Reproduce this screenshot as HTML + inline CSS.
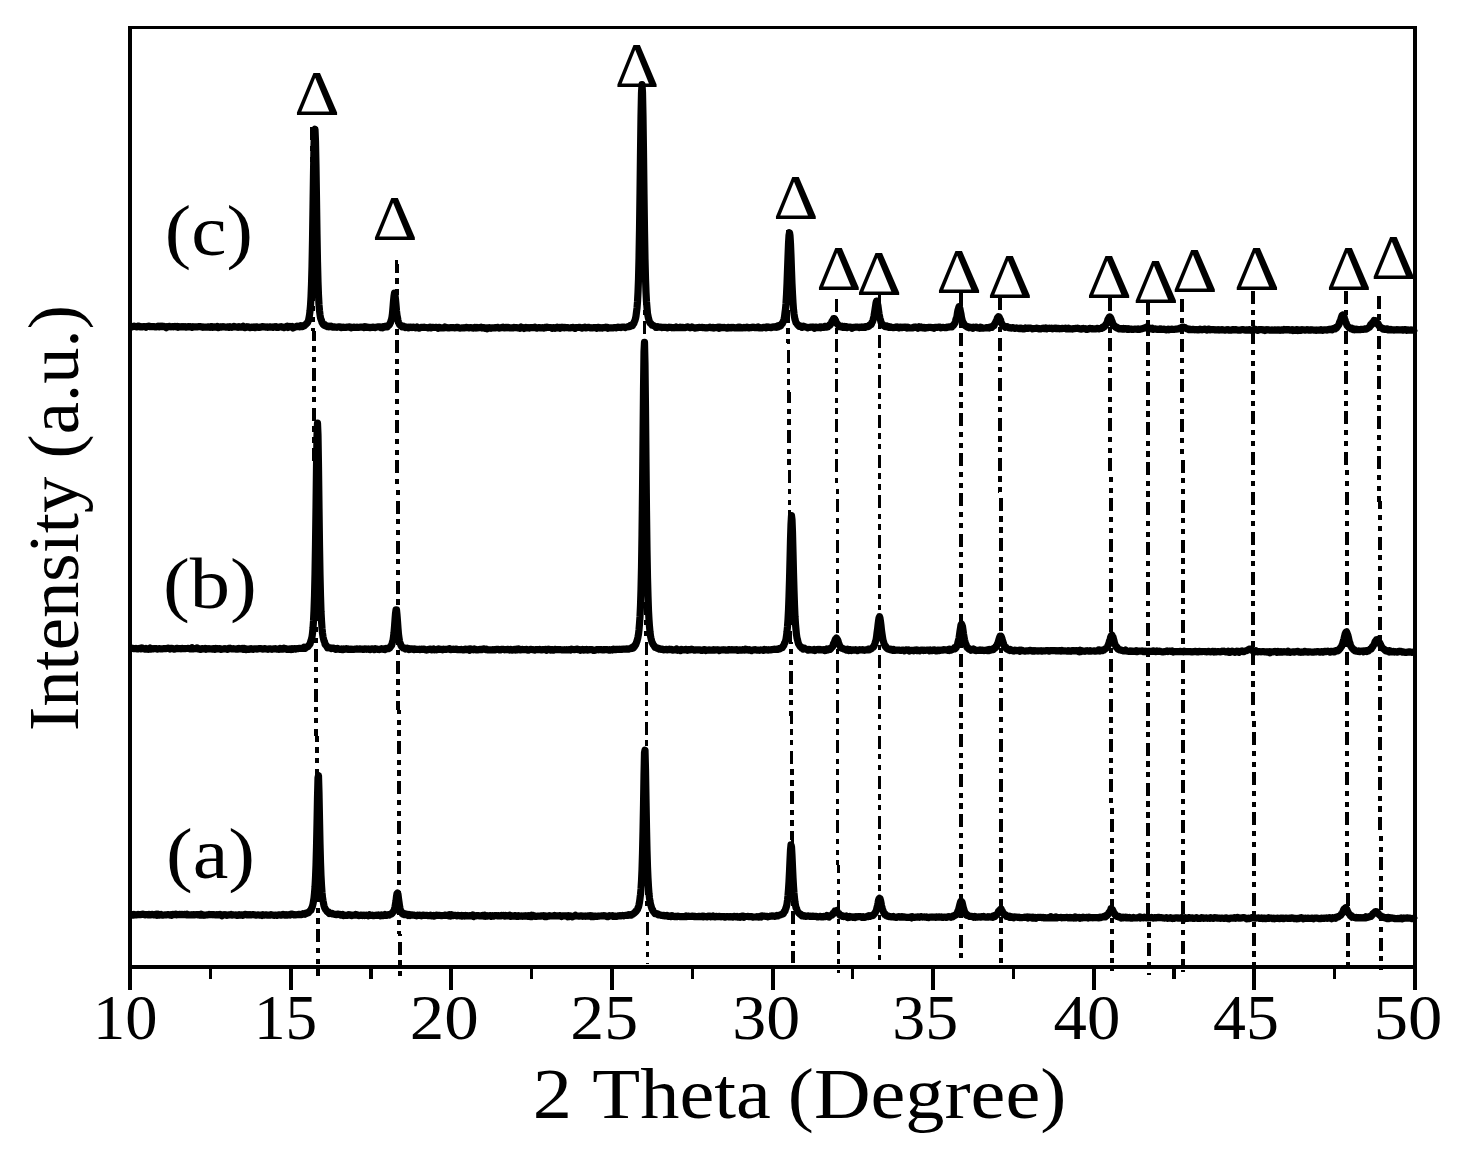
<!DOCTYPE html>
<html lang="en"><head><meta charset="utf-8"><title>XRD patterns</title>
<style>html,body{margin:0;padding:0;background:#fff}svg{display:block}text{font-family:"Liberation Serif","DejaVu Serif",serif;fill:#000}</style></head><body>
<svg width="1462" height="1157" viewBox="0 0 1462 1157">
<rect width="1462" height="1157" fill="#fff"/>
<g stroke="#000" fill="none" shape-rendering="crispEdges" stroke-dasharray="13 5.5 5.3 5.5 5.3 5.5">
<line x1="312.0" y1="127.3" x2="318.3" y2="976.0" stroke-width="4"/>
<line x1="396.5" y1="260.0" x2="399.7" y2="976.0" stroke-width="4"/>
<line x1="644.1" y1="120.5" x2="647.2" y2="964.0" stroke-width="3"/>
<line x1="787.4" y1="229.7" x2="793.3" y2="963.0" stroke-width="3.6"/>
<line x1="836.5" y1="299.0" x2="838.3" y2="972.8" stroke-width="3"/>
<line x1="879.2" y1="294.6" x2="880.0" y2="964.4" stroke-width="3"/>
<line x1="960.6" y1="293.0" x2="961.5" y2="964.0" stroke-width="4"/>
<line x1="1000.1" y1="297.5" x2="1001.5" y2="969.3" stroke-width="4"/>
<line x1="1110.0" y1="298.0" x2="1112.0" y2="971.3" stroke-width="4"/>
<line x1="1147.5" y1="301.8" x2="1148.6" y2="974.8" stroke-width="4"/>
<line x1="1182.2" y1="299.2" x2="1183.5" y2="972.4" stroke-width="4"/>
<line x1="1253.0" y1="291.2" x2="1253.8" y2="968.0" stroke-width="4"/>
<line x1="1346.1" y1="291.2" x2="1347.7" y2="967.0" stroke-width="4"/>
<line x1="1378.9" y1="296.0" x2="1380.9" y2="970.5" stroke-width="4"/>
</g>
<g stroke="#000" fill="none" stroke-linecap="butt" shape-rendering="crispEdges">
<path d="M130.0,26.0 V990.0" stroke-width="4"/>
<path d="M1415.0,26.0 V990.0" stroke-width="4"/>
<path d="M128.0,27.5 H1417.0" stroke-width="3"/>
<path d="M128.0,967.0 H1417.0" stroke-width="4"/>
<path d="M290.6,967.0 V990.0" stroke-width="4"/>
<path d="M451.2,967.0 V990.0" stroke-width="4"/>
<path d="M611.9,967.0 V990.0" stroke-width="4"/>
<path d="M772.5,967.0 V990.0" stroke-width="4"/>
<path d="M933.1,967.0 V990.0" stroke-width="4"/>
<path d="M1093.8,967.0 V990.0" stroke-width="4"/>
<path d="M1254.4,967.0 V990.0" stroke-width="4"/>
<path d="M210.3,967.0 V979.0" stroke-width="3.3"/>
<path d="M370.9,967.0 V979.0" stroke-width="3.3"/>
<path d="M531.6,967.0 V979.0" stroke-width="3.3"/>
<path d="M692.2,967.0 V979.0" stroke-width="3.3"/>
<path d="M852.8,967.0 V979.0" stroke-width="3.3"/>
<path d="M1013.4,967.0 V979.0" stroke-width="3.3"/>
<path d="M1174.1,967.0 V979.0" stroke-width="3.3"/>
<path d="M1334.7,967.0 V979.0" stroke-width="3.3"/>
</g>
<g stroke="#000" fill="none" stroke-width="7.2" stroke-linejoin="round" stroke-linecap="butt">
<path d="M130.0,326.1 131.0,326.6 132.0,326.8 133.0,326.4 134.0,326.1 135.0,326.5 136.0,326.7 137.0,326.9 138.0,326.2 139.0,326.1 140.0,326.8 141.0,326.7 142.0,327.0 143.0,326.8 144.0,326.5 145.0,326.5 146.0,327.3 147.0,326.5 148.0,326.3 149.0,326.2 150.0,326.6 151.0,326.6 152.0,326.5 153.0,326.6 154.0,326.7 155.0,326.8 156.0,326.9 157.0,326.7 158.0,326.1 159.0,326.8 160.0,326.2 161.0,326.6 162.0,326.2 163.0,326.6 164.0,326.4 165.0,326.7 166.0,327.6 167.0,326.6 168.0,326.9 169.0,326.3 170.0,326.6 171.0,326.9 172.0,326.6 173.0,326.8 174.0,326.7 175.0,326.4 176.0,326.9 177.0,326.5 178.0,327.3 179.0,326.6 180.0,326.9 181.0,326.7 182.0,327.0 183.0,326.5 184.0,327.0 185.0,326.7 186.0,327.1 187.0,326.9 188.0,326.8 189.0,326.5 190.0,327.0 191.0,326.9 192.0,327.3 193.0,326.7 194.0,326.9 195.0,326.9 196.0,326.9 197.0,326.8 198.0,326.8 199.0,326.6 200.0,326.5 201.0,326.7 202.0,327.0 203.0,327.3 204.0,327.1 205.0,327.1 206.0,327.1 207.0,327.0 208.0,326.9 209.0,327.1 210.0,327.4 211.0,326.7 212.0,326.6 213.0,327.4 214.0,326.9 215.0,327.1 216.0,327.1 217.0,326.5 218.0,327.6 219.0,327.4 220.0,326.9 221.0,327.1 222.0,326.9 223.0,326.6 224.0,326.9 225.0,327.0 226.0,327.2 227.0,327.1 228.0,326.9 229.0,327.3 230.0,326.7 231.0,327.2 232.0,327.3 233.0,326.8 234.0,326.4 235.0,326.7 236.0,327.0 237.0,327.1 238.0,327.4 239.0,326.7 240.0,327.0 241.0,327.2 242.0,326.9 243.0,326.3 244.0,327.2 245.0,327.7 246.0,327.3 247.0,326.7 248.0,326.9 249.0,327.1 250.0,327.7 251.0,327.2 252.0,327.0 253.0,327.5 254.0,327.0 255.0,327.6 256.0,326.8 257.0,326.9 258.0,327.2 259.0,327.5 260.0,327.2 261.0,327.1 262.0,326.5 263.0,326.8 264.0,326.9 265.0,326.9 266.0,327.2 267.0,326.9 268.0,327.3 269.0,327.1 270.0,326.9 271.0,327.1 272.0,327.2 273.0,327.3 274.0,326.9 275.0,327.0 276.0,326.6 277.0,327.5 278.0,327.5 279.0,327.0 280.0,326.9 281.0,326.7 282.0,327.1 283.0,327.1 284.0,327.7 285.0,327.1 286.0,326.8 287.0,326.3 288.0,327.5 289.0,327.1 290.0,326.5 291.0,327.0 292.0,326.5 293.0,328.0 294.0,327.3 295.0,327.1 296.0,326.8 297.0,326.2 298.0,326.7 299.0,326.2 300.0,326.8 301.0,325.8 301.5,326.1 302.0,326.6 302.5,326.7 303.0,325.7 303.5,325.4 304.0,326.0 304.5,325.7 305.0,324.9 305.5,324.7 306.0,324.2 306.5,323.6 307.0,323.1 307.5,322.8 308.0,321.5 308.5,320.5 309.0,317.9 309.5,315.1 310.0,311.0 310.5,305.6 311.0,297.0 311.5,284.4 312.0,266.6 312.5,240.6 313.0,207.2 313.5,173.1 314.0,145.6 314.5,130.4 315.0,129.3 315.5,141.4 316.0,166.1 316.5,199.4 317.0,233.5 317.5,261.8 318.0,281.9 318.5,295.2 319.0,304.7 319.5,310.4 320.0,314.7 320.5,317.8 321.0,319.3 321.5,320.5 322.0,322.5 322.5,323.0 323.0,324.3 323.5,324.5 324.0,325.1 324.5,325.4 325.0,324.9 325.5,325.9 326.0,325.7 326.5,325.8 327.0,326.1 327.5,326.6 328.0,326.7 328.5,326.8 329.0,326.1 330.0,326.5 331.0,326.1 332.0,326.9 333.0,327.1 334.0,326.8 335.0,327.1 336.0,327.1 337.0,327.4 338.0,326.9 339.0,326.9 340.0,326.9 341.0,327.7 342.0,327.5 343.0,327.2 344.0,327.3 345.0,327.3 346.0,327.3 347.0,327.2 348.0,327.2 349.0,326.9 350.0,327.1 351.0,327.8 352.0,327.4 353.0,327.3 354.0,327.2 355.0,327.3 356.0,327.4 357.0,327.1 358.0,327.4 359.0,327.4 360.0,327.1 361.0,327.1 362.0,327.0 363.0,327.0 364.0,327.6 365.0,326.6 366.0,327.3 367.0,327.2 368.0,327.2 369.0,327.4 370.0,327.7 371.0,327.4 372.0,327.3 373.0,327.2 374.0,327.3 375.0,327.6 376.0,327.2 377.0,327.0 378.0,326.9 379.0,326.9 380.0,326.8 381.0,327.6 381.5,327.3 382.0,327.1 382.5,327.6 383.0,326.9 383.5,327.3 384.0,327.3 384.5,326.5 385.0,326.4 385.5,326.5 386.0,327.0 386.5,327.0 387.0,326.1 387.5,326.6 388.0,325.9 388.5,325.5 389.0,325.1 389.5,324.5 390.0,323.3 390.5,322.5 391.0,320.9 391.5,319.4 392.0,317.0 392.5,313.3 393.0,307.3 393.5,301.0 394.0,296.1 394.5,293.2 395.0,295.3 395.5,299.4 396.0,304.9 396.5,310.8 397.0,315.1 397.5,317.7 398.0,320.4 398.5,322.2 399.0,323.5 399.5,324.4 400.0,324.9 400.5,325.6 401.0,325.7 401.5,325.9 402.0,326.9 402.5,326.7 403.0,326.9 403.5,326.4 404.0,326.9 404.5,327.3 405.0,326.7 405.5,327.5 406.0,327.1 406.5,327.3 407.0,327.2 407.5,327.3 408.0,327.7 408.5,327.2 409.0,327.8 410.0,327.1 411.0,327.1 412.0,327.6 413.0,327.1 414.0,327.3 415.0,327.7 416.0,327.8 417.0,327.0 418.0,327.7 419.0,328.1 420.0,327.9 421.0,327.4 422.0,327.3 423.0,327.4 424.0,327.2 425.0,327.5 426.0,327.5 427.0,327.5 428.0,327.9 429.0,327.5 430.0,327.1 431.0,327.9 432.0,327.3 433.0,327.4 434.0,327.5 435.0,327.5 436.0,327.3 437.0,327.5 438.0,328.3 439.0,327.4 440.0,327.6 441.0,327.9 442.0,327.8 443.0,327.8 444.0,327.9 445.0,327.0 446.0,327.4 447.0,327.7 448.0,327.8 449.0,328.0 450.0,327.8 451.0,327.6 452.0,327.7 453.0,327.6 454.0,327.7 455.0,327.9 456.0,327.6 457.0,327.4 458.0,327.4 459.0,328.0 460.0,328.1 461.0,328.0 462.0,327.9 463.0,327.9 464.0,327.7 465.0,327.9 466.0,327.4 467.0,327.6 468.0,327.5 469.0,327.9 470.0,327.5 471.0,327.7 472.0,327.8 473.0,328.1 474.0,327.5 475.0,327.4 476.0,328.0 477.0,327.4 478.0,327.9 479.0,327.6 480.0,327.7 481.0,327.2 482.0,328.0 483.0,327.6 484.0,327.5 485.0,328.4 486.0,328.0 487.0,328.8 488.0,327.9 489.0,327.7 490.0,327.8 491.0,328.3 492.0,327.8 493.0,327.9 494.0,327.9 495.0,327.5 496.0,327.8 497.0,327.6 498.0,327.4 499.0,328.1 500.0,328.0 501.0,327.8 502.0,327.5 503.0,327.2 504.0,327.9 505.0,327.8 506.0,327.3 507.0,327.8 508.0,327.3 509.0,327.8 510.0,327.8 511.0,327.9 512.0,327.9 513.0,327.8 514.0,327.4 515.0,327.7 516.0,327.6 517.0,327.7 518.0,327.9 519.0,328.0 520.0,328.3 521.0,327.0 522.0,327.9 523.0,327.7 524.0,328.5 525.0,328.1 526.0,327.3 527.0,327.9 528.0,327.6 529.0,328.1 530.0,327.5 531.0,327.7 532.0,327.7 533.0,327.7 534.0,327.6 535.0,327.2 536.0,327.9 537.0,328.1 538.0,327.7 539.0,327.5 540.0,327.8 541.0,327.9 542.0,327.7 543.0,327.8 544.0,328.2 545.0,327.4 546.0,327.6 547.0,327.2 548.0,327.5 549.0,327.5 550.0,327.5 551.0,327.5 552.0,328.3 553.0,327.7 554.0,327.7 555.0,328.4 556.0,327.7 557.0,327.2 558.0,327.9 559.0,327.5 560.0,328.2 561.0,327.4 562.0,327.6 563.0,327.3 564.0,327.8 565.0,327.4 566.0,327.7 567.0,327.6 568.0,327.6 569.0,328.0 570.0,328.0 571.0,327.8 572.0,327.5 573.0,327.4 574.0,327.8 575.0,328.4 576.0,327.6 577.0,327.5 578.0,327.5 579.0,327.4 580.0,327.4 581.0,327.7 582.0,328.1 583.0,327.7 584.0,327.6 585.0,327.2 586.0,327.8 587.0,327.7 588.0,327.3 589.0,327.4 590.0,327.7 591.0,328.0 592.0,327.9 593.0,327.8 594.0,327.6 595.0,327.8 596.0,327.7 597.0,328.3 598.0,327.3 599.0,327.6 600.0,328.1 601.0,327.6 602.0,328.1 603.0,327.7 604.0,327.7 605.0,327.5 606.0,327.2 607.0,327.4 608.0,328.3 609.0,327.8 610.0,327.8 611.0,327.9 612.0,327.8 613.0,327.9 614.0,327.5 615.0,327.5 616.0,327.8 617.0,327.4 618.0,327.1 619.0,327.4 620.0,327.3 621.0,327.6 622.0,327.1 623.0,327.0 624.0,327.1 625.0,327.6 626.0,327.0 627.0,327.0 628.0,326.7 629.0,326.6 629.5,326.6 630.0,326.6 630.5,325.5 631.0,326.1 631.5,325.4 632.0,325.0 632.5,325.4 633.0,324.1 633.5,324.0 634.0,322.9 634.5,321.3 635.0,320.3 635.5,318.6 636.0,316.0 636.5,312.0 637.0,308.1 637.5,301.7 638.0,292.1 638.5,279.2 639.0,258.6 639.5,230.1 640.0,193.3 640.5,152.3 641.0,116.1 641.5,92.6 642.0,84.5 642.5,92.4 643.0,116.3 643.5,152.1 644.0,193.5 644.5,230.0 645.0,258.7 645.5,278.4 646.0,292.2 646.5,301.8 647.0,307.8 647.5,313.5 648.0,316.0 648.5,318.4 649.0,320.0 649.5,322.0 650.0,323.0 650.5,323.5 651.0,323.7 651.5,324.5 652.0,325.2 652.5,325.2 653.0,325.3 653.5,325.6 654.0,325.9 654.5,326.3 655.0,326.3 655.5,326.6 656.0,327.5 657.0,327.4 658.0,326.7 659.0,327.2 660.0,327.2 661.0,327.2 662.0,327.6 663.0,327.3 664.0,327.3 665.0,327.3 666.0,327.4 667.0,327.9 668.0,327.7 669.0,327.1 670.0,327.4 671.0,327.3 672.0,327.8 673.0,327.6 674.0,327.8 675.0,327.6 676.0,327.0 677.0,327.7 678.0,327.7 679.0,327.7 680.0,327.2 681.0,327.6 682.0,327.4 683.0,327.4 684.0,327.7 685.0,327.7 686.0,327.3 687.0,327.1 688.0,326.9 689.0,327.4 690.0,327.9 691.0,327.6 692.0,326.9 693.0,327.4 694.0,327.7 695.0,328.1 696.0,328.0 697.0,327.7 698.0,327.7 699.0,327.3 700.0,327.5 701.0,327.5 702.0,327.4 703.0,327.6 704.0,327.5 705.0,327.7 706.0,328.0 707.0,327.8 708.0,327.7 709.0,327.5 710.0,327.1 711.0,327.6 712.0,327.8 713.0,327.3 714.0,328.0 715.0,327.5 716.0,327.7 717.0,327.5 718.0,327.2 719.0,328.2 720.0,327.2 721.0,327.9 722.0,327.4 723.0,327.7 724.0,327.4 725.0,327.5 726.0,327.9 727.0,328.2 728.0,327.3 729.0,327.6 730.0,327.9 731.0,327.4 732.0,327.8 733.0,327.3 734.0,327.8 735.0,327.7 736.0,327.9 737.0,327.7 738.0,327.2 739.0,327.8 740.0,327.2 741.0,327.8 742.0,328.0 743.0,327.7 744.0,327.4 745.0,327.9 746.0,327.6 747.0,327.2 748.0,327.5 749.0,328.0 750.0,327.5 751.0,327.6 752.0,327.4 753.0,327.0 754.0,327.4 755.0,327.6 756.0,327.6 757.0,327.5 758.0,326.9 759.0,327.9 760.0,327.7 761.0,327.8 762.0,327.9 763.0,327.3 764.0,327.3 765.0,327.6 766.0,327.9 767.0,326.9 768.0,327.3 769.0,327.2 770.0,327.5 771.0,327.7 772.0,327.2 773.0,326.8 774.0,327.1 775.0,327.0 776.0,326.5 776.5,327.1 777.0,326.6 777.5,326.9 778.0,326.1 778.5,326.7 779.0,325.8 779.5,326.3 780.0,325.2 780.5,325.9 781.0,325.0 781.5,324.1 782.0,324.0 782.5,323.4 783.0,322.0 783.5,320.8 784.0,319.3 784.5,316.9 785.0,312.8 785.5,309.1 786.0,303.2 786.5,294.6 787.0,283.7 787.5,269.8 788.0,256.7 788.5,243.8 789.0,235.4 789.5,232.7 790.0,235.6 790.5,243.6 791.0,255.7 791.5,270.4 792.0,283.6 792.5,294.0 793.0,302.7 793.5,309.4 794.0,313.7 794.5,317.0 795.0,319.4 795.5,321.0 796.0,322.7 796.5,323.1 797.0,323.9 797.5,324.7 798.0,325.3 798.5,325.7 799.0,326.2 799.5,325.8 800.0,326.5 800.5,326.5 801.0,326.2 801.5,326.6 802.0,327.3 802.5,327.0 803.0,326.7 803.5,326.2 804.5,326.8 805.5,326.9 806.5,327.2 807.5,327.9 808.5,327.5 809.5,327.4 810.5,327.0 811.5,327.0 812.5,327.3 813.5,327.2 814.5,328.3 815.5,327.2 816.5,327.2 817.5,327.7 818.5,327.4 819.5,327.0 820.5,327.7 821.0,327.2 821.5,326.9 822.0,327.4 822.5,327.4 823.0,327.1 823.5,327.4 824.0,327.4 824.5,326.8 825.0,326.4 825.5,326.3 826.0,326.9 826.5,327.2 827.0,327.0 827.5,326.9 828.0,326.9 828.5,326.1 829.0,326.1 829.5,325.0 830.0,325.1 830.5,324.4 831.0,323.6 831.5,322.5 832.0,321.3 832.5,320.6 833.0,320.0 833.5,318.7 834.0,318.7 834.5,318.7 835.0,319.6 835.5,320.3 836.0,321.8 836.5,322.6 837.0,323.7 837.5,324.1 838.0,324.6 838.5,325.3 839.0,326.1 839.5,326.6 840.0,326.2 840.5,326.8 841.0,326.9 841.5,326.9 842.0,326.4 842.5,327.1 843.0,326.7 843.5,327.4 844.0,327.4 844.5,327.4 845.0,326.4 845.5,327.4 846.0,327.5 846.5,326.9 847.0,327.6 847.5,327.3 848.0,327.3 849.0,327.1 850.0,327.0 851.0,327.2 852.0,328.3 853.0,327.4 854.0,327.4 855.0,327.2 856.0,327.2 857.0,327.2 858.0,327.1 859.0,327.6 860.0,327.2 861.0,327.5 862.0,326.9 863.0,327.4 863.5,327.1 864.0,327.3 864.5,327.0 865.0,326.7 865.5,327.3 866.0,326.7 866.5,326.7 867.0,326.4 867.5,326.6 868.0,326.3 868.5,326.3 869.0,326.1 869.5,325.5 870.0,324.9 870.5,325.0 871.0,324.6 871.5,323.9 872.0,322.4 872.5,321.8 873.0,320.2 873.5,318.2 874.0,315.9 874.5,312.7 875.0,309.5 875.5,306.3 876.0,303.0 876.5,301.1 877.0,301.7 877.5,303.7 878.0,306.1 878.5,309.9 879.0,313.6 879.5,316.2 880.0,318.6 880.5,320.0 881.0,322.1 881.5,323.5 882.0,323.7 882.5,324.3 883.0,324.6 883.5,325.7 884.0,325.8 884.5,325.8 885.0,326.6 885.5,326.6 886.0,326.7 886.5,326.1 887.0,326.7 887.5,327.0 888.0,326.5 888.5,327.3 889.0,327.5 889.5,327.4 890.0,326.9 890.5,326.9 891.0,327.5 892.0,327.5 893.0,327.6 894.0,327.6 895.0,327.3 896.0,327.2 897.0,326.8 898.0,327.6 899.0,328.0 900.0,327.2 901.0,327.2 902.0,327.6 903.0,327.5 904.0,327.0 905.0,327.2 906.0,327.1 907.0,328.0 908.0,327.2 909.0,327.7 910.0,328.0 911.0,328.0 912.0,327.8 913.0,327.9 914.0,327.0 915.0,327.3 916.0,327.2 917.0,327.3 918.0,328.2 919.0,326.9 920.0,327.6 921.0,327.0 922.0,327.8 923.0,327.8 924.0,327.3 925.0,328.1 926.0,327.5 927.0,327.8 928.0,327.6 929.0,327.3 930.0,327.4 931.0,327.4 932.0,327.7 933.0,327.5 934.0,328.2 935.0,327.4 936.0,327.4 937.0,327.3 938.0,327.3 939.0,327.1 940.0,327.2 941.0,327.8 942.0,327.5 943.0,327.4 944.0,327.5 945.0,327.7 946.0,327.5 946.5,327.6 947.0,327.1 947.5,327.2 948.0,327.0 948.5,327.1 949.0,326.9 949.5,326.9 950.0,326.9 950.5,326.7 951.0,326.6 951.5,326.3 952.0,326.7 952.5,325.9 953.0,325.3 953.5,325.3 954.0,324.3 954.5,323.6 955.0,323.0 955.5,321.2 956.0,319.2 956.5,318.2 957.0,316.0 957.5,312.5 958.0,310.1 958.5,308.4 959.0,306.6 959.5,307.4 960.0,309.1 960.5,311.9 961.0,314.1 961.5,317.5 962.0,319.4 962.5,321.3 963.0,322.4 963.5,323.0 964.0,324.4 964.5,324.7 965.0,325.6 965.5,325.7 966.0,326.2 966.5,326.5 967.0,326.9 967.5,327.1 968.0,326.7 968.5,327.1 969.0,327.7 969.5,327.4 970.0,327.1 970.5,327.4 971.0,327.4 971.5,327.8 972.0,327.6 972.5,327.7 973.0,328.3 973.5,327.2 974.5,327.4 975.5,327.2 976.5,327.2 977.5,328.0 978.5,327.8 979.5,328.3 980.5,327.2 981.5,327.5 982.5,328.2 983.5,328.1 984.5,328.0 985.5,328.0 986.0,327.7 986.5,327.6 987.0,327.6 987.5,327.8 988.0,327.5 988.5,327.6 989.0,327.9 989.5,327.0 990.0,327.0 990.5,327.3 991.0,326.9 991.5,326.8 992.0,327.2 992.5,326.5 993.0,325.9 993.5,325.9 994.0,325.8 994.5,324.1 995.0,323.4 995.5,322.7 996.0,321.3 996.5,320.9 997.0,319.2 997.5,317.8 998.0,317.2 998.5,316.6 999.0,316.9 999.5,317.9 1000.0,319.8 1000.5,319.7 1001.0,321.7 1001.5,323.1 1002.0,323.9 1002.5,325.1 1003.0,325.3 1003.5,325.7 1004.0,326.1 1004.5,326.2 1005.0,327.2 1005.5,326.6 1006.0,327.1 1006.5,327.1 1007.0,327.2 1007.5,326.8 1008.0,327.5 1008.5,327.7 1009.0,327.8 1009.5,328.0 1010.0,327.8 1010.5,327.7 1011.0,328.0 1011.5,328.2 1012.0,327.7 1012.5,327.5 1013.5,327.7 1014.5,328.4 1015.5,328.4 1016.5,327.9 1017.5,328.2 1018.5,328.4 1019.5,328.6 1020.5,328.0 1021.5,328.2 1022.5,328.7 1023.5,329.0 1024.5,328.7 1025.5,327.9 1026.5,328.4 1027.5,328.2 1028.5,328.3 1029.5,328.1 1030.5,328.2 1031.5,328.3 1032.5,328.9 1033.5,328.6 1034.5,328.5 1035.5,328.4 1036.5,328.2 1037.5,328.3 1038.5,328.8 1039.5,328.7 1040.5,329.0 1041.5,328.5 1042.5,328.4 1043.5,328.0 1044.5,328.6 1045.5,328.0 1046.5,328.9 1047.5,328.3 1048.5,328.5 1049.5,328.1 1050.5,328.4 1051.5,328.2 1052.5,328.9 1053.5,328.6 1054.5,328.2 1055.5,328.0 1056.5,328.6 1057.5,328.4 1058.5,328.3 1059.5,328.8 1060.5,328.5 1061.5,328.6 1062.5,328.4 1063.5,328.5 1064.5,328.5 1065.5,328.2 1066.5,328.8 1067.5,328.8 1068.5,328.1 1069.5,328.7 1070.5,329.0 1071.5,328.8 1072.5,329.1 1073.5,328.6 1074.5,328.7 1075.5,328.3 1076.5,328.4 1077.5,328.2 1078.5,328.5 1079.5,328.8 1080.5,328.9 1081.5,329.1 1082.5,328.8 1083.5,328.4 1084.5,328.9 1085.5,328.7 1086.5,329.3 1087.5,329.3 1088.5,329.0 1089.5,328.4 1090.5,328.6 1091.5,328.8 1092.5,328.5 1093.5,328.9 1094.5,328.9 1095.5,328.9 1096.5,328.7 1097.0,328.3 1097.5,328.3 1098.0,328.5 1098.5,328.9 1099.0,328.9 1099.5,328.7 1100.0,328.4 1100.5,328.4 1101.0,328.4 1101.5,328.4 1102.0,328.1 1102.5,327.2 1103.0,327.8 1103.5,327.3 1104.0,326.7 1104.5,326.6 1105.0,326.0 1105.5,325.3 1106.0,324.0 1106.5,323.6 1107.0,322.6 1107.5,321.1 1108.0,319.2 1108.5,318.6 1109.0,317.6 1109.5,316.9 1110.0,317.0 1110.5,317.5 1111.0,318.5 1111.5,320.2 1112.0,321.3 1112.5,322.7 1113.0,324.8 1113.5,324.9 1114.0,325.5 1114.5,325.6 1115.0,326.7 1115.5,327.3 1116.0,327.1 1116.5,327.6 1117.0,327.2 1117.5,328.2 1118.0,328.0 1118.5,328.5 1119.0,328.8 1119.5,328.4 1120.0,328.8 1120.5,328.7 1121.0,328.6 1121.5,328.6 1122.0,328.5 1122.5,329.2 1123.0,329.1 1123.5,328.5 1124.0,329.1 1125.0,328.7 1126.0,328.5 1127.0,329.3 1128.0,328.6 1129.0,329.4 1130.0,329.1 1131.0,329.3 1132.0,329.2 1133.0,329.4 1134.0,329.2 1135.0,329.2 1136.0,329.1 1137.0,329.4 1138.0,328.9 1139.0,329.3 1140.0,329.4 1141.0,328.9 1142.0,328.9 1143.0,328.4 1144.0,328.1 1145.0,327.9 1146.0,327.3 1147.0,326.9 1148.0,327.4 1149.0,327.9 1150.0,328.4 1151.0,328.8 1152.0,328.3 1153.0,329.4 1154.0,329.0 1155.0,328.9 1156.0,329.1 1157.0,329.4 1158.0,329.5 1159.0,329.2 1160.0,329.3 1161.0,328.8 1162.0,329.4 1163.0,329.3 1164.0,329.2 1165.0,329.6 1166.0,329.9 1167.0,329.7 1168.0,329.1 1169.0,329.8 1170.0,329.3 1171.0,329.3 1172.0,329.2 1173.0,329.5 1174.0,329.5 1175.0,329.3 1176.0,329.1 1177.0,329.1 1178.0,328.8 1179.0,329.0 1180.0,328.2 1181.0,327.8 1182.0,327.3 1183.0,327.0 1184.0,327.4 1185.0,327.5 1186.0,328.5 1187.0,328.9 1188.0,328.9 1189.0,329.7 1190.0,329.1 1191.0,329.6 1192.0,329.6 1193.0,329.3 1194.0,329.5 1195.0,329.8 1196.0,329.6 1197.0,329.7 1198.0,330.0 1199.0,329.7 1200.0,329.1 1201.0,329.4 1202.0,329.9 1203.0,329.6 1204.0,329.3 1205.0,329.1 1206.0,329.8 1207.0,330.1 1208.0,329.3 1209.0,329.1 1210.0,329.9 1211.0,329.6 1212.0,329.6 1213.0,329.6 1214.0,329.5 1215.0,329.9 1216.0,330.0 1217.0,329.9 1218.0,329.6 1219.0,330.1 1220.0,329.8 1221.0,330.0 1222.0,329.5 1223.0,330.0 1224.0,330.0 1225.0,330.2 1226.0,329.8 1227.0,330.0 1228.0,329.7 1229.0,330.1 1230.0,330.1 1231.0,330.2 1232.0,329.7 1233.0,329.5 1234.0,329.8 1235.0,329.8 1236.0,329.6 1237.0,330.0 1238.0,330.1 1239.0,330.0 1240.0,330.2 1241.0,330.0 1242.0,329.6 1243.0,329.7 1244.0,329.8 1245.0,330.1 1246.0,330.1 1247.0,329.9 1248.0,330.2 1249.0,329.6 1250.0,329.8 1251.0,330.3 1252.0,330.0 1253.0,330.2 1254.0,329.3 1255.0,329.4 1256.0,329.6 1257.0,330.2 1258.0,330.4 1259.0,329.7 1260.0,329.6 1261.0,329.6 1262.0,329.6 1263.0,330.1 1264.0,329.8 1265.0,330.5 1266.0,330.1 1267.0,329.7 1268.0,330.0 1269.0,329.9 1270.0,330.2 1271.0,330.2 1272.0,329.8 1273.0,330.2 1274.0,330.1 1275.0,329.9 1276.0,330.0 1277.0,330.2 1278.0,329.9 1279.0,329.8 1280.0,330.3 1281.0,330.0 1282.0,329.8 1283.0,330.1 1284.0,329.5 1285.0,330.0 1286.0,329.6 1287.0,329.8 1288.0,329.5 1289.0,329.8 1290.0,330.2 1291.0,329.9 1292.0,329.6 1293.0,330.5 1294.0,329.8 1295.0,330.4 1296.0,329.8 1297.0,329.6 1298.0,330.5 1299.0,329.9 1300.0,330.2 1301.0,330.4 1302.0,329.6 1303.0,330.0 1304.0,329.8 1305.0,330.2 1306.0,330.0 1307.0,329.6 1308.0,330.0 1309.0,330.2 1310.0,329.9 1311.0,330.1 1312.0,329.8 1313.0,330.0 1314.0,330.1 1315.0,330.0 1316.0,330.3 1317.0,330.2 1318.0,330.2 1319.0,330.2 1320.0,330.0 1321.0,329.6 1322.0,330.2 1323.0,330.4 1324.0,329.9 1325.0,329.8 1326.0,329.8 1327.0,330.1 1328.0,329.8 1329.0,329.4 1329.5,329.6 1330.0,329.4 1330.5,329.5 1331.0,329.2 1331.5,329.2 1332.0,329.8 1332.5,329.6 1333.0,328.7 1333.5,328.8 1334.0,328.8 1334.5,328.6 1335.0,328.1 1335.5,328.6 1336.0,327.5 1336.5,327.9 1337.0,327.4 1337.5,326.6 1338.0,325.8 1338.5,325.2 1339.0,324.3 1339.5,322.5 1340.0,321.3 1340.5,320.4 1341.0,318.6 1341.5,317.0 1342.0,315.6 1342.5,315.0 1343.0,314.9 1343.5,316.5 1344.0,316.5 1344.5,318.8 1345.0,320.0 1345.5,321.5 1346.0,322.8 1346.5,323.9 1347.0,325.5 1347.5,326.0 1348.0,326.5 1348.5,327.0 1349.0,327.6 1349.5,327.6 1350.0,328.1 1350.5,328.3 1351.0,328.8 1351.5,329.0 1352.0,328.4 1352.5,329.0 1353.0,329.5 1353.5,328.9 1354.0,329.0 1354.5,329.7 1355.0,329.4 1355.5,329.3 1356.0,329.1 1356.5,329.6 1357.0,329.4 1358.0,329.6 1359.0,329.7 1360.0,329.7 1361.0,329.4 1361.5,329.3 1362.0,329.4 1362.5,329.4 1363.0,329.4 1363.5,329.1 1364.0,329.1 1364.5,329.0 1365.0,328.9 1365.5,329.0 1366.0,329.1 1366.5,328.5 1367.0,328.6 1367.5,328.3 1368.0,328.0 1368.5,327.9 1369.0,327.1 1369.5,327.1 1370.0,326.5 1370.5,324.8 1371.0,325.3 1371.5,324.6 1372.0,324.3 1372.5,322.6 1373.0,322.2 1373.5,321.6 1374.0,320.6 1374.5,321.0 1375.0,320.7 1375.5,320.6 1376.0,321.0 1376.5,321.9 1377.0,323.5 1377.5,324.2 1378.0,323.6 1378.5,324.5 1379.0,325.9 1379.5,326.3 1380.0,326.6 1380.5,327.4 1381.0,327.7 1381.5,328.0 1382.0,328.3 1382.5,328.1 1383.0,329.0 1383.5,328.7 1384.0,329.3 1384.5,329.3 1385.0,329.2 1385.5,329.3 1386.0,329.3 1386.5,328.9 1387.0,329.4 1387.5,329.7 1388.0,329.1 1388.5,329.2 1389.0,330.0 1390.0,330.0 1391.0,329.3 1392.0,329.9 1393.0,329.8 1394.0,330.1 1395.0,329.8 1396.0,329.8 1397.0,329.7 1398.0,330.0 1399.0,329.9 1400.0,329.8 1401.0,329.9 1402.0,329.7 1403.0,330.2 1404.0,329.7 1405.0,329.5 1406.0,329.7 1407.0,330.3 1408.0,329.8 1409.0,330.2 1410.0,330.2 1411.0,329.8 1412.0,330.2 1413.0,330.1 1414.0,330.0 1414.0,329.8"/>
<path d="M130.0,648.6 131.0,648.2 132.0,648.5 133.0,648.4 134.0,648.7 135.0,648.7 136.0,648.4 137.0,648.9 138.0,649.0 139.0,648.6 140.0,648.4 141.0,648.8 142.0,647.9 143.0,648.5 144.0,648.8 145.0,649.2 146.0,648.4 147.0,649.1 148.0,649.3 149.0,649.2 150.0,648.0 151.0,649.0 152.0,648.7 153.0,649.0 154.0,648.6 155.0,648.5 156.0,648.6 157.0,649.1 158.0,648.9 159.0,648.6 160.0,648.8 161.0,648.9 162.0,648.9 163.0,648.7 164.0,648.5 165.0,648.5 166.0,648.6 167.0,648.5 168.0,648.2 169.0,648.3 170.0,649.0 171.0,648.4 172.0,648.3 173.0,648.7 174.0,649.1 175.0,649.1 176.0,648.6 177.0,648.4 178.0,648.6 179.0,648.5 180.0,648.6 181.0,648.9 182.0,648.4 183.0,648.5 184.0,648.7 185.0,648.7 186.0,648.5 187.0,648.5 188.0,648.4 189.0,648.5 190.0,648.9 191.0,648.7 192.0,647.8 193.0,648.9 194.0,648.7 195.0,648.5 196.0,648.7 197.0,647.9 198.0,648.3 199.0,649.1 200.0,649.4 201.0,649.4 202.0,648.6 203.0,648.8 204.0,649.0 205.0,648.4 206.0,649.3 207.0,648.6 208.0,648.9 209.0,648.5 210.0,648.9 211.0,648.8 212.0,649.1 213.0,648.5 214.0,648.8 215.0,649.4 216.0,648.5 217.0,648.9 218.0,649.0 219.0,648.7 220.0,648.7 221.0,649.3 222.0,649.2 223.0,649.0 224.0,648.9 225.0,648.5 226.0,648.9 227.0,649.4 228.0,649.2 229.0,648.4 230.0,648.2 231.0,648.7 232.0,648.9 233.0,648.7 234.0,648.8 235.0,649.0 236.0,649.1 237.0,648.9 238.0,649.2 239.0,648.4 240.0,649.0 241.0,649.0 242.0,648.4 243.0,649.3 244.0,648.4 245.0,648.5 246.0,649.7 247.0,649.3 248.0,649.0 249.0,649.3 250.0,649.2 251.0,648.6 252.0,649.0 253.0,649.3 254.0,648.9 255.0,648.9 256.0,648.8 257.0,649.1 258.0,648.8 259.0,648.7 260.0,648.6 261.0,648.6 262.0,649.0 263.0,649.1 264.0,648.8 265.0,648.6 266.0,649.0 267.0,649.0 268.0,649.3 269.0,648.8 270.0,648.8 271.0,649.1 272.0,649.4 273.0,648.9 274.0,648.9 275.0,648.7 276.0,648.8 277.0,649.2 278.0,649.2 279.0,649.3 280.0,648.4 281.0,649.2 282.0,648.7 283.0,649.1 284.0,648.2 285.0,648.9 286.0,648.7 287.0,649.3 288.0,649.0 289.0,649.3 290.0,648.8 291.0,649.5 292.0,648.7 293.0,649.4 294.0,648.7 295.0,648.5 296.0,649.1 297.0,648.6 298.0,648.7 299.0,648.3 300.0,648.5 301.0,648.5 302.0,648.2 303.0,648.4 304.0,647.4 304.5,648.2 305.0,647.7 305.5,648.1 306.0,647.4 306.5,647.1 307.0,646.9 307.5,646.8 308.0,646.5 308.5,645.7 309.0,645.1 309.5,644.7 310.0,644.0 310.5,642.1 311.0,640.8 311.5,638.9 312.0,637.0 312.5,633.3 313.0,628.2 313.5,621.0 314.0,610.4 314.5,596.2 315.0,574.4 315.5,544.6 316.0,507.7 316.5,466.4 317.0,435.5 317.5,423.1 318.0,434.8 318.5,466.9 319.0,506.8 319.5,544.9 320.0,574.3 320.5,595.6 321.0,611.5 321.5,620.8 322.0,628.3 322.5,633.0 323.0,636.8 323.5,638.8 324.0,640.8 324.5,641.6 325.0,644.1 325.5,644.8 326.0,645.0 326.5,646.2 327.0,646.6 327.5,647.7 328.0,647.2 328.5,647.6 329.0,647.7 329.5,648.0 330.0,647.9 330.5,647.9 331.0,648.4 331.5,648.6 332.5,648.1 333.5,648.2 334.5,648.6 335.5,649.3 336.5,648.7 337.5,648.3 338.5,649.1 339.5,649.2 340.5,649.5 341.5,649.0 342.5,649.6 343.5,648.8 344.5,649.3 345.5,649.1 346.5,648.7 347.5,649.0 348.5,649.5 349.5,649.4 350.5,649.0 351.5,649.5 352.5,649.4 353.5,649.4 354.5,649.2 355.5,649.2 356.5,648.9 357.5,649.1 358.5,649.2 359.5,648.9 360.5,649.1 361.5,649.2 362.5,649.2 363.5,649.5 364.5,648.9 365.5,649.1 366.5,649.3 367.5,649.1 368.5,649.3 369.5,649.0 370.5,649.6 371.5,649.1 372.5,648.8 373.5,649.4 374.5,649.7 375.5,648.6 376.5,649.1 377.5,649.2 378.5,649.5 379.5,649.6 380.5,649.1 381.5,648.6 382.5,649.2 383.0,649.3 383.5,649.1 384.0,649.0 384.5,648.7 385.0,649.6 385.5,648.5 386.0,648.3 386.5,649.0 387.0,648.7 387.5,648.7 388.0,648.4 388.5,648.7 389.0,648.4 389.5,647.5 390.0,647.6 390.5,646.4 391.0,645.6 391.5,645.6 392.0,644.0 392.5,641.8 393.0,640.2 393.5,636.8 394.0,632.8 394.5,626.9 395.0,620.0 395.5,613.5 396.0,609.9 396.5,609.9 397.0,614.9 397.5,621.3 398.0,628.3 398.5,634.2 399.0,637.9 399.5,641.1 400.0,643.0 400.5,644.1 401.0,645.4 401.5,646.3 402.0,647.1 402.5,647.2 403.0,647.9 403.5,647.8 404.0,648.3 404.5,648.4 405.0,648.2 405.5,649.0 406.0,648.8 406.5,648.9 407.0,648.9 407.5,648.3 408.0,648.6 408.5,648.8 409.0,649.4 409.5,648.9 410.0,649.3 410.5,648.8 411.5,648.9 412.5,649.1 413.5,649.6 414.5,648.8 415.5,649.2 416.5,649.4 417.5,649.4 418.5,649.3 419.5,649.6 420.5,649.4 421.5,649.0 422.5,649.5 423.5,649.1 424.5,649.3 425.5,649.8 426.5,650.1 427.5,649.8 428.5,649.5 429.5,649.2 430.5,649.2 431.5,649.9 432.5,649.5 433.5,649.0 434.5,649.9 435.5,649.6 436.5,649.8 437.5,649.5 438.5,648.8 439.5,649.2 440.5,649.4 441.5,649.4 442.5,649.9 443.5,649.2 444.5,649.4 445.5,649.4 446.5,649.4 447.5,649.1 448.5,649.1 449.5,648.7 450.5,649.6 451.5,649.4 452.5,649.5 453.5,649.2 454.5,649.5 455.5,649.2 456.5,649.2 457.5,649.6 458.5,649.7 459.5,649.7 460.5,649.5 461.5,649.4 462.5,649.9 463.5,649.9 464.5,649.3 465.5,649.2 466.5,649.6 467.5,649.6 468.5,649.2 469.5,650.2 470.5,648.9 471.5,649.3 472.5,649.6 473.5,649.8 474.5,649.0 475.5,649.4 476.5,650.0 477.5,650.0 478.5,649.5 479.5,649.6 480.5,649.3 481.5,649.7 482.5,649.2 483.5,648.9 484.5,649.1 485.5,649.6 486.5,649.2 487.5,649.9 488.5,650.0 489.5,649.9 490.5,649.8 491.5,649.9 492.5,649.7 493.5,649.8 494.5,649.7 495.5,649.8 496.5,649.3 497.5,649.4 498.5,649.3 499.5,649.9 500.5,649.8 501.5,649.4 502.5,649.3 503.5,649.4 504.5,649.9 505.5,649.6 506.5,649.5 507.5,649.4 508.5,649.6 509.5,650.1 510.5,649.4 511.5,649.5 512.5,650.1 513.5,649.8 514.5,649.3 515.5,650.0 516.5,649.2 517.5,649.8 518.5,648.9 519.5,649.3 520.5,649.9 521.5,649.5 522.5,649.4 523.5,649.7 524.5,649.6 525.5,649.5 526.5,649.4 527.5,650.2 528.5,650.1 529.5,649.7 530.5,649.3 531.5,649.5 532.5,649.6 533.5,649.8 534.5,650.1 535.5,649.5 536.5,649.7 537.5,649.5 538.5,649.7 539.5,649.4 540.5,649.8 541.5,650.0 542.5,649.5 543.5,649.6 544.5,649.7 545.5,649.3 546.5,650.2 547.5,649.3 548.5,649.6 549.5,649.4 550.5,650.1 551.5,649.5 552.5,649.5 553.5,650.2 554.5,649.6 555.5,649.4 556.5,649.7 557.5,649.7 558.5,649.5 559.5,649.6 560.5,649.6 561.5,649.9 562.5,649.9 563.5,649.9 564.5,649.7 565.5,649.9 566.5,649.6 567.5,650.0 568.5,649.8 569.5,649.6 570.5,650.1 571.5,649.2 572.5,649.4 573.5,649.5 574.5,649.7 575.5,649.3 576.5,649.3 577.5,649.1 578.5,649.7 579.5,649.5 580.5,650.4 581.5,649.9 582.5,649.4 583.5,650.1 584.5,649.7 585.5,650.0 586.5,649.4 587.5,650.1 588.5,650.0 589.5,649.6 590.5,649.5 591.5,649.6 592.5,649.8 593.5,650.4 594.5,650.3 595.5,650.2 596.5,649.6 597.5,649.6 598.5,649.8 599.5,649.6 600.5,649.6 601.5,649.6 602.5,650.0 603.5,649.7 604.5,649.8 605.5,649.6 606.5,649.6 607.5,649.6 608.5,650.1 609.5,649.7 610.5,650.1 611.5,649.6 612.5,650.0 613.5,649.2 614.5,649.5 615.5,649.6 616.5,649.4 617.5,649.5 618.5,649.3 619.5,649.5 620.5,649.3 621.5,649.5 622.5,649.3 623.5,649.1 624.5,649.2 625.5,649.2 626.5,648.8 627.5,649.0 628.5,649.2 629.5,648.6 630.5,648.6 631.0,648.5 631.5,647.8 632.0,648.3 632.5,648.4 633.0,647.0 633.5,647.7 634.0,646.4 634.5,646.6 635.0,645.0 635.5,645.1 636.0,643.9 636.5,642.4 637.0,641.1 637.5,639.2 638.0,636.9 638.5,634.2 639.0,629.9 639.5,623.6 640.0,616.4 640.5,605.5 641.0,589.6 641.5,567.5 642.0,534.6 642.5,492.4 643.0,440.7 643.5,389.3 644.0,351.7 644.5,342.3 645.0,364.1 645.5,408.8 646.0,461.5 646.5,510.9 647.0,549.2 647.5,577.3 648.0,595.8 648.5,610.5 649.0,619.7 649.5,626.7 650.0,632.0 650.5,636.0 651.0,638.3 651.5,640.3 652.0,642.4 652.5,643.0 653.0,644.3 653.5,645.0 654.0,645.5 654.5,646.4 655.0,647.4 655.5,647.3 656.0,647.6 656.5,647.8 657.0,648.3 657.5,648.3 658.0,648.1 658.5,648.5 659.5,649.2 660.5,648.9 661.5,649.5 662.5,649.2 663.5,649.9 664.5,649.5 665.5,649.6 666.5,649.4 667.5,649.8 668.5,649.5 669.5,649.2 670.5,649.7 671.5,649.3 672.5,650.1 673.5,649.9 674.5,649.7 675.5,649.9 676.5,649.0 677.5,650.2 678.5,649.6 679.5,650.0 680.5,650.6 681.5,649.3 682.5,649.7 683.5,649.9 684.5,649.9 685.5,649.3 686.5,649.5 687.5,650.3 688.5,649.6 689.5,650.0 690.5,649.4 691.5,649.6 692.5,649.3 693.5,649.9 694.5,650.2 695.5,649.9 696.5,649.8 697.5,649.9 698.5,650.0 699.5,649.8 700.5,650.0 701.5,650.5 702.5,650.5 703.5,649.7 704.5,649.5 705.5,650.5 706.5,650.2 707.5,650.2 708.5,650.1 709.5,649.8 710.5,650.2 711.5,650.2 712.5,650.2 713.5,649.6 714.5,650.2 715.5,649.8 716.5,649.8 717.5,650.0 718.5,649.8 719.5,650.6 720.5,650.1 721.5,650.0 722.5,649.8 723.5,650.0 724.5,649.8 725.5,650.1 726.5,650.2 727.5,650.2 728.5,649.5 729.5,649.8 730.5,649.9 731.5,649.6 732.5,650.0 733.5,649.9 734.5,649.9 735.5,650.0 736.5,649.7 737.5,650.4 738.5,650.2 739.5,649.8 740.5,650.1 741.5,650.2 742.5,649.7 743.5,649.8 744.5,650.2 745.5,649.2 746.5,649.5 747.5,650.0 748.5,650.1 749.5,649.7 750.5,650.2 751.5,650.6 752.5,650.0 753.5,649.9 754.5,650.0 755.5,649.6 756.5,650.1 757.5,650.0 758.5,650.1 759.5,650.4 760.5,649.9 761.5,650.0 762.5,650.0 763.5,650.4 764.5,649.4 765.5,649.9 766.5,649.7 767.5,649.9 768.5,650.1 769.5,649.8 770.5,650.0 771.5,649.8 772.5,649.5 773.5,649.4 774.5,649.1 775.5,649.5 776.5,649.2 777.5,649.4 778.5,649.2 779.0,648.6 779.5,648.4 780.0,648.7 780.5,648.0 781.0,648.1 781.5,647.9 782.0,647.3 782.5,647.5 783.0,646.2 783.5,645.9 784.0,644.9 784.5,643.1 785.0,642.6 785.5,641.0 786.0,639.0 786.5,635.9 787.0,631.8 787.5,626.5 788.0,619.4 788.5,609.9 789.0,596.4 789.5,580.1 790.0,560.3 790.5,539.7 791.0,524.1 791.5,515.6 792.0,519.6 792.5,532.4 793.0,551.8 793.5,572.5 794.0,590.2 794.5,604.8 795.0,616.3 795.5,623.9 796.0,629.8 796.5,634.8 797.0,638.0 797.5,639.8 798.0,642.1 798.5,643.8 799.0,644.6 799.5,645.4 800.0,646.3 800.5,646.9 801.0,647.1 801.5,647.9 802.0,647.5 802.5,648.2 803.0,649.1 803.5,648.3 804.0,648.8 804.5,648.3 805.0,648.8 805.5,648.8 806.0,649.3 807.0,649.3 808.0,650.1 809.0,649.3 810.0,649.7 811.0,649.8 812.0,650.0 813.0,650.1 814.0,649.4 815.0,650.5 816.0,649.8 817.0,649.7 818.0,649.4 819.0,649.8 820.0,649.4 821.0,649.9 822.0,649.7 823.0,649.9 823.5,649.6 824.0,649.8 824.5,650.5 825.0,650.1 825.5,649.8 826.0,649.4 826.5,650.1 827.0,649.0 827.5,649.1 828.0,649.8 828.5,649.1 829.0,649.5 829.5,649.1 830.0,649.4 830.5,649.0 831.0,648.3 831.5,647.5 832.0,647.3 832.5,646.8 833.0,645.6 833.5,643.6 834.0,643.1 834.5,641.7 835.0,640.3 835.5,639.0 836.0,638.8 836.5,638.0 837.0,639.1 837.5,639.5 838.0,640.8 838.5,642.6 839.0,644.0 839.5,645.1 840.0,646.1 840.5,647.2 841.0,647.8 841.5,648.1 842.0,648.5 842.5,648.5 843.0,648.6 843.5,648.7 844.0,649.2 844.5,649.1 845.0,649.4 845.5,649.8 846.0,649.8 846.5,650.1 847.0,649.5 847.5,649.2 848.0,649.5 848.5,650.5 849.0,650.1 849.5,649.8 850.0,650.3 850.5,649.8 851.5,650.5 852.5,649.9 853.5,649.9 854.5,650.2 855.5,649.7 856.5,650.0 857.5,650.6 858.5,650.2 859.5,649.7 860.5,649.9 861.5,650.0 862.5,649.7 863.5,650.1 864.5,650.3 865.5,649.8 866.5,650.0 867.0,649.8 867.5,649.7 868.0,649.3 868.5,649.8 869.0,649.8 869.5,649.1 870.0,648.9 870.5,649.1 871.0,648.8 871.5,648.8 872.0,648.3 872.5,647.8 873.0,646.9 873.5,646.9 874.0,646.0 874.5,644.6 875.0,643.3 875.5,641.5 876.0,640.1 876.5,637.1 877.0,632.9 877.5,629.6 878.0,625.2 878.5,621.1 879.0,618.0 879.5,616.7 880.0,618.2 880.5,621.5 881.0,625.4 881.5,630.3 882.0,633.8 882.5,637.0 883.0,640.0 883.5,641.7 884.0,643.7 884.5,644.7 885.0,645.9 885.5,646.8 886.0,646.6 886.5,648.0 887.0,648.3 887.5,648.5 888.0,649.0 888.5,649.1 889.0,649.1 889.5,649.0 890.0,649.7 890.5,649.8 891.0,649.2 891.5,649.5 892.0,649.4 892.5,650.1 893.0,649.7 893.5,649.5 894.5,650.4 895.5,650.2 896.5,650.1 897.5,650.2 898.5,650.1 899.5,650.2 900.5,650.4 901.5,650.3 902.5,650.1 903.5,650.2 904.5,650.8 905.5,650.1 906.5,649.8 907.5,650.3 908.5,649.9 909.5,651.0 910.5,650.5 911.5,650.4 912.5,650.4 913.5,650.9 914.5,650.0 915.5,650.3 916.5,649.8 917.5,650.7 918.5,650.3 919.5,650.8 920.5,650.2 921.5,650.0 922.5,650.1 923.5,650.6 924.5,650.1 925.5,650.4 926.5,650.1 927.5,650.1 928.5,650.2 929.5,650.8 930.5,650.0 931.5,650.4 932.5,650.6 933.5,650.1 934.5,649.9 935.5,650.8 936.5,650.9 937.5,650.3 938.5,650.0 939.5,650.6 940.5,650.3 941.5,650.1 942.5,650.2 943.5,649.6 944.5,650.0 945.5,649.9 946.5,649.8 947.5,650.3 948.5,650.2 949.0,650.5 949.5,649.2 950.0,649.7 950.5,649.6 951.0,650.2 951.5,650.0 952.0,649.6 952.5,649.5 953.0,649.1 953.5,649.0 954.0,648.8 954.5,647.8 955.0,648.8 955.5,648.0 956.0,647.8 956.5,646.8 957.0,645.6 957.5,644.5 958.0,642.1 958.5,640.3 959.0,638.3 959.5,634.8 960.0,631.0 960.5,628.0 961.0,624.9 961.5,624.0 962.0,625.1 962.5,626.5 963.0,629.9 963.5,633.7 964.0,636.8 964.5,639.7 965.0,641.6 965.5,643.6 966.0,644.3 966.5,646.1 967.0,647.3 967.5,647.2 968.0,648.0 968.5,648.7 969.0,649.2 969.5,649.4 970.0,649.0 970.5,649.3 971.0,650.1 971.5,649.6 972.0,649.9 972.5,649.6 973.0,649.8 973.5,649.1 974.0,649.9 974.5,649.5 975.0,649.9 975.5,649.9 976.0,650.6 977.0,650.5 978.0,650.4 979.0,650.2 980.0,649.9 981.0,650.5 982.0,650.1 983.0,650.3 984.0,650.6 985.0,650.3 986.0,650.3 987.0,650.0 987.5,650.6 988.0,650.4 988.5,650.4 989.0,650.6 989.5,649.6 990.0,650.0 990.5,650.2 991.0,650.0 991.5,649.9 992.0,649.8 992.5,649.0 993.0,649.3 993.5,649.5 994.0,648.8 994.5,648.4 995.0,648.3 995.5,647.0 996.0,647.1 996.5,646.6 997.0,645.1 997.5,643.7 998.0,642.8 998.5,640.9 999.0,639.2 999.5,638.0 1000.0,636.3 1000.5,636.5 1001.0,636.2 1001.5,637.3 1002.0,639.0 1002.5,640.4 1003.0,642.1 1003.5,643.9 1004.0,645.2 1004.5,646.5 1005.0,646.5 1005.5,647.7 1006.0,647.5 1006.5,648.7 1007.0,649.2 1007.5,648.9 1008.0,649.5 1008.5,649.8 1009.0,649.6 1009.5,649.6 1010.0,650.4 1010.5,649.6 1011.0,650.2 1011.5,650.5 1012.0,650.3 1012.5,650.8 1013.0,650.8 1013.5,650.5 1014.0,651.0 1014.5,650.7 1015.0,650.1 1016.0,650.4 1017.0,650.6 1018.0,650.6 1019.0,650.1 1020.0,651.3 1021.0,650.2 1022.0,650.3 1023.0,650.8 1024.0,650.8 1025.0,651.2 1026.0,650.8 1027.0,650.8 1028.0,651.0 1029.0,650.5 1030.0,650.4 1031.0,650.6 1032.0,651.1 1033.0,650.7 1034.0,651.2 1035.0,650.6 1036.0,651.0 1037.0,650.8 1038.0,651.1 1039.0,650.8 1040.0,650.9 1041.0,650.7 1042.0,651.2 1043.0,650.8 1044.0,651.0 1045.0,651.0 1046.0,650.6 1047.0,650.6 1048.0,650.8 1049.0,651.2 1050.0,650.5 1051.0,650.5 1052.0,650.6 1053.0,650.7 1054.0,650.5 1055.0,650.6 1056.0,651.0 1057.0,650.6 1058.0,650.9 1059.0,650.5 1060.0,650.8 1061.0,651.1 1062.0,650.3 1063.0,650.9 1064.0,651.0 1065.0,650.9 1066.0,651.0 1067.0,651.1 1068.0,650.5 1069.0,650.9 1070.0,651.1 1071.0,651.3 1072.0,650.5 1073.0,650.8 1074.0,650.5 1075.0,651.0 1076.0,650.6 1077.0,650.7 1078.0,651.2 1079.0,651.7 1080.0,650.4 1081.0,651.5 1082.0,650.7 1083.0,651.2 1084.0,651.1 1085.0,651.4 1086.0,650.9 1087.0,650.7 1088.0,651.0 1089.0,651.2 1090.0,650.7 1091.0,651.1 1092.0,651.0 1093.0,651.0 1094.0,650.9 1095.0,651.1 1096.0,651.1 1097.0,650.8 1098.0,650.7 1098.5,650.1 1099.0,650.5 1099.5,650.2 1100.0,650.9 1100.5,650.3 1101.0,650.3 1101.5,650.6 1102.0,650.7 1102.5,650.6 1103.0,649.9 1103.5,650.1 1104.0,650.1 1104.5,649.3 1105.0,649.2 1105.5,648.6 1106.0,648.4 1106.5,648.2 1107.0,647.4 1107.5,646.5 1108.0,645.4 1108.5,644.8 1109.0,643.1 1109.5,640.9 1110.0,640.1 1110.5,637.6 1111.0,636.3 1111.5,635.3 1112.0,635.2 1112.5,636.3 1113.0,637.0 1113.5,639.1 1114.0,640.8 1114.5,643.1 1115.0,644.2 1115.5,645.5 1116.0,646.6 1116.5,647.5 1117.0,648.0 1117.5,647.8 1118.0,649.1 1118.5,649.2 1119.0,649.8 1119.5,649.9 1120.0,649.9 1120.5,649.9 1121.0,650.0 1121.5,650.5 1122.0,650.5 1122.5,650.4 1123.0,650.6 1123.5,650.9 1124.0,650.6 1124.5,650.8 1125.0,650.7 1125.5,650.1 1126.0,651.0 1127.0,651.0 1128.0,651.3 1129.0,651.5 1130.0,650.9 1131.0,651.3 1132.0,651.2 1133.0,651.2 1134.0,651.5 1135.0,651.5 1136.0,650.8 1137.0,651.7 1138.0,651.2 1139.0,651.1 1140.0,651.1 1141.0,651.2 1142.0,650.9 1143.0,651.6 1144.0,651.4 1145.0,651.0 1146.0,651.6 1147.0,651.4 1148.0,651.4 1149.0,651.6 1150.0,651.3 1151.0,651.3 1152.0,651.5 1153.0,650.8 1154.0,651.0 1155.0,651.5 1156.0,651.7 1157.0,650.9 1158.0,651.4 1159.0,651.2 1160.0,651.3 1161.0,651.6 1162.0,651.9 1163.0,651.9 1164.0,651.7 1165.0,651.6 1166.0,651.5 1167.0,650.9 1168.0,651.6 1169.0,651.1 1170.0,651.1 1171.0,651.5 1172.0,651.0 1173.0,652.0 1174.0,651.7 1175.0,651.6 1176.0,651.6 1177.0,651.6 1178.0,651.5 1179.0,651.7 1180.0,651.3 1181.0,651.6 1182.0,651.6 1183.0,651.8 1184.0,651.2 1185.0,651.6 1186.0,651.5 1187.0,651.7 1188.0,651.7 1189.0,651.6 1190.0,651.7 1191.0,651.7 1192.0,652.0 1193.0,651.7 1194.0,651.7 1195.0,651.3 1196.0,651.5 1197.0,651.8 1198.0,651.9 1199.0,651.3 1200.0,651.6 1201.0,651.5 1202.0,651.6 1203.0,651.5 1204.0,651.5 1205.0,651.6 1206.0,651.7 1207.0,651.9 1208.0,651.4 1209.0,651.4 1210.0,651.9 1211.0,651.8 1212.0,651.6 1213.0,651.3 1214.0,652.0 1215.0,651.4 1216.0,652.0 1217.0,651.8 1218.0,651.6 1219.0,651.6 1220.0,651.9 1221.0,651.7 1222.0,651.2 1223.0,651.5 1224.0,651.1 1225.0,651.8 1226.0,652.0 1227.0,652.0 1228.0,651.3 1229.0,652.4 1230.0,652.3 1231.0,651.7 1232.0,651.1 1233.0,651.5 1234.0,652.0 1235.0,652.3 1236.0,651.6 1237.0,651.2 1238.0,651.4 1239.0,652.3 1240.0,651.7 1241.0,651.2 1242.0,650.9 1243.0,651.7 1244.0,651.6 1245.0,651.0 1246.0,650.8 1247.0,650.5 1248.0,649.9 1249.0,649.3 1250.0,649.0 1251.0,649.3 1252.0,650.4 1253.0,650.6 1254.0,651.2 1255.0,651.8 1256.0,650.7 1257.0,651.5 1258.0,651.9 1259.0,651.6 1260.0,651.6 1261.0,651.9 1262.0,651.6 1263.0,651.6 1264.0,651.7 1265.0,651.9 1266.0,651.8 1267.0,652.1 1268.0,651.9 1269.0,651.7 1270.0,652.8 1271.0,651.8 1272.0,651.8 1273.0,651.8 1274.0,651.7 1275.0,651.4 1276.0,652.0 1277.0,652.4 1278.0,651.4 1279.0,651.7 1280.0,652.1 1281.0,651.7 1282.0,652.1 1283.0,651.9 1284.0,651.6 1285.0,651.9 1286.0,651.8 1287.0,652.1 1288.0,651.2 1289.0,652.1 1290.0,652.4 1291.0,652.0 1292.0,652.0 1293.0,651.8 1294.0,652.1 1295.0,651.9 1296.0,651.6 1297.0,651.6 1298.0,651.3 1299.0,652.1 1300.0,652.0 1301.0,652.3 1302.0,652.1 1303.0,652.2 1304.0,651.6 1305.0,651.4 1306.0,651.8 1307.0,651.9 1308.0,652.1 1309.0,651.9 1310.0,651.9 1311.0,652.0 1312.0,652.1 1313.0,652.0 1314.0,652.1 1315.0,651.8 1316.0,651.9 1317.0,651.5 1318.0,651.6 1319.0,651.9 1320.0,652.1 1321.0,651.7 1322.0,651.5 1323.0,652.2 1324.0,651.6 1325.0,651.4 1326.0,651.6 1327.0,651.5 1328.0,651.1 1329.0,651.6 1330.0,652.2 1331.0,651.4 1332.0,651.3 1333.0,651.8 1333.5,651.5 1334.0,651.3 1334.5,651.7 1335.0,650.9 1335.5,651.1 1336.0,651.1 1336.5,650.9 1337.0,650.3 1337.5,650.2 1338.0,650.8 1338.5,650.0 1339.0,649.6 1339.5,649.6 1340.0,648.2 1340.5,648.1 1341.0,646.9 1341.5,646.9 1342.0,645.1 1342.5,644.1 1343.0,642.2 1343.5,640.7 1344.0,638.8 1344.5,636.6 1345.0,634.5 1345.5,633.0 1346.0,632.0 1346.5,631.8 1347.0,632.9 1347.5,634.5 1348.0,635.7 1348.5,637.9 1349.0,640.0 1349.5,642.2 1350.0,643.3 1350.5,645.6 1351.0,646.3 1351.5,647.2 1352.0,648.2 1352.5,648.3 1353.0,649.2 1353.5,649.6 1354.0,650.2 1354.5,649.8 1355.0,650.8 1355.5,650.7 1356.0,650.8 1356.5,651.1 1357.0,650.8 1357.5,651.0 1358.0,651.3 1358.5,651.0 1359.0,651.5 1359.5,651.6 1360.0,651.3 1360.5,651.3 1361.5,651.1 1362.5,651.0 1363.5,651.7 1364.0,650.9 1364.5,651.2 1365.0,651.2 1365.5,650.8 1366.0,650.7 1366.5,650.6 1367.0,651.4 1367.5,650.7 1368.0,650.9 1368.5,650.9 1369.0,650.3 1369.5,650.1 1370.0,649.3 1370.5,648.9 1371.0,649.1 1371.5,648.6 1372.0,647.2 1372.5,647.2 1373.0,646.1 1373.5,645.3 1374.0,644.4 1374.5,643.6 1375.0,641.8 1375.5,641.0 1376.0,640.6 1376.5,639.6 1377.0,639.6 1377.5,639.5 1378.0,639.4 1378.5,640.5 1379.0,641.9 1379.5,642.5 1380.0,643.3 1380.5,644.6 1381.0,645.7 1381.5,646.7 1382.0,647.4 1382.5,648.1 1383.0,648.2 1383.5,648.8 1384.0,649.1 1384.5,649.6 1385.0,650.1 1385.5,650.7 1386.0,650.4 1386.5,651.0 1387.0,651.1 1387.5,650.6 1388.0,650.8 1388.5,651.2 1389.0,650.8 1389.5,651.9 1390.0,650.8 1390.5,651.1 1391.0,651.7 1391.5,651.3 1392.5,651.8 1393.5,651.4 1394.5,652.1 1395.5,651.6 1396.5,652.0 1397.5,652.2 1398.5,651.4 1399.5,651.6 1400.5,651.4 1401.5,651.6 1402.5,652.2 1403.5,651.9 1404.5,652.2 1405.5,652.4 1406.5,652.3 1407.5,652.2 1408.5,651.9 1409.5,651.9 1410.5,652.1 1411.5,652.3 1412.5,652.3 1413.5,652.1 1414.0,651.9"/>
<path d="M130.0,914.6 131.0,915.1 132.0,914.7 133.0,915.2 134.0,914.4 135.0,914.9 136.0,914.7 137.0,914.9 138.0,914.4 139.0,914.7 140.0,914.6 141.0,914.6 142.0,914.3 143.0,914.2 144.0,914.5 145.0,914.8 146.0,914.7 147.0,914.7 148.0,914.8 149.0,914.3 150.0,915.0 151.0,914.7 152.0,914.4 153.0,914.5 154.0,915.0 155.0,914.7 156.0,914.2 157.0,915.3 158.0,914.2 159.0,915.2 160.0,914.9 161.0,914.4 162.0,915.1 163.0,915.1 164.0,915.0 165.0,914.9 166.0,914.8 167.0,914.8 168.0,914.6 169.0,914.8 170.0,915.1 171.0,914.7 172.0,915.3 173.0,914.3 174.0,914.7 175.0,914.3 176.0,914.2 177.0,914.8 178.0,914.6 179.0,914.6 180.0,914.4 181.0,914.7 182.0,914.3 183.0,914.7 184.0,914.6 185.0,914.4 186.0,914.9 187.0,914.2 188.0,914.9 189.0,914.8 190.0,914.9 191.0,914.8 192.0,915.0 193.0,914.7 194.0,914.5 195.0,914.9 196.0,914.6 197.0,914.7 198.0,914.8 199.0,914.5 200.0,915.1 201.0,914.3 202.0,915.2 203.0,914.8 204.0,915.3 205.0,915.1 206.0,915.0 207.0,914.9 208.0,914.9 209.0,914.4 210.0,914.7 211.0,914.5 212.0,914.6 213.0,914.8 214.0,914.6 215.0,914.9 216.0,914.8 217.0,914.7 218.0,915.0 219.0,915.0 220.0,914.4 221.0,914.8 222.0,915.7 223.0,914.9 224.0,915.0 225.0,914.6 226.0,915.2 227.0,915.3 228.0,915.0 229.0,914.8 230.0,914.9 231.0,914.3 232.0,915.1 233.0,914.8 234.0,915.0 235.0,915.0 236.0,914.9 237.0,915.5 238.0,915.2 239.0,914.7 240.0,915.1 241.0,915.1 242.0,914.9 243.0,915.3 244.0,914.8 245.0,914.4 246.0,914.6 247.0,915.0 248.0,914.6 249.0,915.0 250.0,914.5 251.0,915.0 252.0,914.8 253.0,914.6 254.0,914.8 255.0,914.8 256.0,915.2 257.0,915.0 258.0,914.9 259.0,915.0 260.0,915.2 261.0,915.1 262.0,915.5 263.0,914.7 264.0,915.2 265.0,915.0 266.0,914.8 267.0,915.1 268.0,915.2 269.0,915.2 270.0,915.1 271.0,914.7 272.0,915.0 273.0,915.1 274.0,915.4 275.0,915.0 276.0,915.0 277.0,915.4 278.0,915.0 279.0,914.8 280.0,915.0 281.0,915.2 282.0,915.0 283.0,914.4 284.0,914.8 285.0,915.2 286.0,914.7 287.0,915.1 288.0,914.9 289.0,914.6 290.0,915.1 291.0,914.2 292.0,914.2 293.0,914.3 294.0,914.9 295.0,914.6 296.0,914.9 297.0,914.6 298.0,914.6 299.0,914.4 300.0,914.3 301.0,914.7 302.0,914.5 303.0,913.7 304.0,914.1 305.0,914.3 305.5,913.8 306.0,913.2 306.5,913.5 307.0,913.2 307.5,912.8 308.0,912.9 308.5,912.7 309.0,911.8 309.5,911.5 310.0,910.9 310.5,910.4 311.0,910.1 311.5,908.5 312.0,907.6 312.5,906.0 313.0,904.0 313.5,901.1 314.0,898.2 314.5,893.0 315.0,887.1 315.5,877.8 316.0,865.1 316.5,847.1 317.0,823.6 317.5,797.4 318.0,777.8 318.5,775.6 319.0,792.9 319.5,818.6 320.0,843.2 320.5,862.0 321.0,875.7 321.5,885.3 322.0,892.3 322.5,897.4 323.0,900.6 323.5,903.2 324.0,905.7 324.5,907.3 325.0,908.5 325.5,909.5 326.0,909.9 326.5,910.6 327.0,911.5 327.5,911.9 328.0,911.9 328.5,912.8 329.0,912.3 329.5,913.5 330.0,913.0 330.5,913.3 331.0,913.4 331.5,913.4 332.0,913.8 332.5,913.5 333.5,914.1 334.5,914.4 335.5,914.4 336.5,914.6 337.5,914.2 338.5,914.2 339.5,914.4 340.5,915.1 341.5,915.0 342.5,914.4 343.5,915.5 344.5,915.2 345.5,915.3 346.5,915.3 347.5,915.4 348.5,914.6 349.5,915.1 350.5,914.9 351.5,915.7 352.5,915.3 353.5,915.1 354.5,915.1 355.5,914.5 356.5,915.2 357.5,914.9 358.5,915.6 359.5,915.4 360.5,915.2 361.5,915.1 362.5,915.6 363.5,915.1 364.5,915.6 365.5,915.3 366.5,915.2 367.5,915.4 368.5,915.8 369.5,914.8 370.5,915.5 371.5,915.5 372.5,915.2 373.5,915.7 374.5,915.5 375.5,915.4 376.5,915.0 377.5,915.4 378.5,914.9 379.5,915.4 380.5,915.8 381.5,914.9 382.5,915.6 383.5,914.8 384.0,915.1 384.5,915.3 385.0,914.6 385.5,915.1 386.0,914.8 386.5,914.8 387.0,915.2 387.5,914.8 388.0,914.9 388.5,914.7 389.0,914.7 389.5,915.0 390.0,914.4 390.5,914.1 391.0,914.0 391.5,913.9 392.0,913.5 392.5,912.3 393.0,912.3 393.5,911.7 394.0,911.2 394.5,908.8 395.0,906.9 395.5,903.9 396.0,900.8 396.5,896.5 397.0,893.7 397.5,893.0 398.0,894.5 398.5,898.4 399.0,902.1 399.5,905.8 400.0,908.3 400.5,910.3 401.0,911.0 401.5,912.1 402.0,913.3 402.5,913.0 403.0,914.1 403.5,913.6 404.0,914.4 404.5,913.9 405.0,914.4 405.5,914.6 406.0,914.7 406.5,914.2 407.0,914.9 407.5,914.9 408.0,915.5 408.5,915.2 409.0,914.5 409.5,915.2 410.0,915.5 410.5,915.2 411.0,915.0 411.5,914.9 412.5,915.2 413.5,915.0 414.5,915.3 415.5,915.3 416.5,915.8 417.5,915.1 418.5,915.5 419.5,915.1 420.5,915.5 421.5,915.8 422.5,915.3 423.5,915.1 424.5,915.5 425.5,915.5 426.5,915.3 427.5,915.6 428.5,915.5 429.5,915.7 430.5,915.1 431.5,915.8 432.5,915.9 433.5,915.3 434.5,916.1 435.5,915.6 436.5,915.2 437.5,915.3 438.5,915.4 439.5,915.4 440.5,915.5 441.5,915.7 442.5,915.5 443.5,915.5 444.5,915.3 445.5,915.0 446.5,915.4 447.5,915.2 448.5,915.9 449.5,914.9 450.5,916.0 451.5,914.8 452.5,915.6 453.5,915.6 454.5,915.3 455.5,915.4 456.5,915.9 457.5,915.3 458.5,915.6 459.5,915.7 460.5,915.9 461.5,915.3 462.5,916.1 463.5,915.6 464.5,916.0 465.5,915.3 466.5,916.0 467.5,915.7 468.5,915.9 469.5,915.5 470.5,916.0 471.5,915.7 472.5,915.1 473.5,916.5 474.5,915.5 475.5,915.9 476.5,915.7 477.5,915.6 478.5,915.6 479.5,916.0 480.5,916.0 481.5,916.0 482.5,915.3 483.5,916.0 484.5,915.3 485.5,916.4 486.5,915.9 487.5,916.1 488.5,915.8 489.5,915.8 490.5,915.6 491.5,916.4 492.5,915.7 493.5,916.1 494.5,915.5 495.5,915.7 496.5,915.7 497.5,915.8 498.5,915.7 499.5,916.0 500.5,916.0 501.5,915.3 502.5,915.7 503.5,915.4 504.5,916.1 505.5,915.5 506.5,916.0 507.5,915.9 508.5,915.8 509.5,915.3 510.5,916.4 511.5,915.8 512.5,916.1 513.5,916.2 514.5,915.6 515.5,915.6 516.5,916.4 517.5,916.5 518.5,915.6 519.5,915.9 520.5,916.2 521.5,915.8 522.5,916.3 523.5,916.1 524.5,915.9 525.5,916.1 526.5,915.8 527.5,916.3 528.5,915.7 529.5,916.3 530.5,916.7 531.5,915.4 532.5,916.4 533.5,915.5 534.5,915.9 535.5,916.5 536.5,916.3 537.5,916.2 538.5,916.1 539.5,916.0 540.5,916.1 541.5,915.9 542.5,915.9 543.5,915.6 544.5,916.5 545.5,916.0 546.5,916.6 547.5,916.2 548.5,916.1 549.5,915.7 550.5,915.9 551.5,916.0 552.5,916.0 553.5,915.9 554.5,915.3 555.5,915.9 556.5,915.9 557.5,915.9 558.5,915.9 559.5,915.6 560.5,915.8 561.5,916.5 562.5,915.8 563.5,915.9 564.5,915.8 565.5,916.0 566.5,915.9 567.5,916.7 568.5,915.7 569.5,916.5 570.5,915.9 571.5,916.2 572.5,916.8 573.5,916.1 574.5,916.1 575.5,915.2 576.5,916.0 577.5,916.0 578.5,916.1 579.5,916.2 580.5,915.8 581.5,915.8 582.5,916.3 583.5,916.0 584.5,916.1 585.5,916.3 586.5,916.1 587.5,916.1 588.5,915.8 589.5,916.1 590.5,915.6 591.5,916.6 592.5,915.9 593.5,916.6 594.5,916.0 595.5,916.1 596.5,916.5 597.5,916.2 598.5,916.2 599.5,916.0 600.5,916.0 601.5,915.9 602.5,915.9 603.5,915.6 604.5,916.0 605.5,915.9 606.5,916.5 607.5,916.7 608.5,916.6 609.5,915.7 610.5,915.9 611.5,916.0 612.5,915.6 613.5,916.5 614.5,916.2 615.5,916.1 616.5,916.5 617.5,916.1 618.5,915.8 619.5,916.0 620.5,915.7 621.5,915.9 622.5,915.4 623.5,915.9 624.5,915.5 625.5,915.4 626.5,915.3 627.5,915.3 628.5,914.7 629.5,915.2 630.5,914.7 631.5,915.1 632.0,914.3 632.5,914.4 633.0,913.9 633.5,913.6 634.0,913.0 634.5,912.9 635.0,912.5 635.5,911.4 636.0,911.5 636.5,910.7 637.0,910.2 637.5,909.5 638.0,907.8 638.5,906.8 639.0,904.8 639.5,902.2 640.0,898.6 640.5,894.4 641.0,889.0 641.5,880.9 642.0,869.6 642.5,853.0 643.0,831.4 643.5,805.2 644.0,774.9 644.5,752.7 645.0,750.2 645.5,769.0 646.0,798.7 646.5,827.1 647.0,850.2 647.5,866.8 648.0,878.2 648.5,886.9 649.0,893.7 649.5,898.2 650.0,901.5 650.5,904.2 651.0,905.7 651.5,907.4 652.0,909.1 652.5,909.5 653.0,911.0 653.5,911.7 654.0,912.3 654.5,912.9 655.0,913.6 655.5,913.5 656.0,913.5 656.5,913.5 657.0,913.5 657.5,914.4 658.0,914.8 658.5,914.2 659.0,914.9 660.0,914.9 661.0,915.2 662.0,915.5 663.0,915.6 664.0,915.3 665.0,916.0 666.0,915.8 667.0,915.4 668.0,916.2 669.0,916.5 670.0,916.0 671.0,916.6 672.0,915.7 673.0,916.1 674.0,916.6 675.0,916.6 676.0,916.4 677.0,916.6 678.0,916.2 679.0,916.5 680.0,916.6 681.0,916.6 682.0,916.5 683.0,916.6 684.0,916.5 685.0,916.6 686.0,915.9 687.0,916.6 688.0,916.1 689.0,916.3 690.0,916.5 691.0,916.5 692.0,916.1 693.0,916.3 694.0,916.6 695.0,916.4 696.0,916.5 697.0,916.6 698.0,916.6 699.0,916.3 700.0,916.6 701.0,916.7 702.0,916.1 703.0,916.8 704.0,916.2 705.0,916.7 706.0,916.7 707.0,916.8 708.0,916.2 709.0,916.3 710.0,916.2 711.0,916.8 712.0,916.6 713.0,916.0 714.0,916.8 715.0,917.0 716.0,916.4 717.0,916.6 718.0,916.7 719.0,916.3 720.0,916.5 721.0,916.8 722.0,916.5 723.0,916.6 724.0,916.7 725.0,917.2 726.0,916.7 727.0,916.7 728.0,916.5 729.0,917.0 730.0,916.7 731.0,916.6 732.0,917.0 733.0,917.1 734.0,916.4 735.0,916.6 736.0,917.0 737.0,916.5 738.0,917.1 739.0,916.6 740.0,917.3 741.0,916.4 742.0,916.1 743.0,916.2 744.0,917.3 745.0,916.5 746.0,916.5 747.0,916.5 748.0,916.4 749.0,916.7 750.0,916.7 751.0,916.5 752.0,916.5 753.0,917.1 754.0,917.0 755.0,917.0 756.0,917.0 757.0,916.6 758.0,916.9 759.0,917.1 760.0,916.4 761.0,917.0 762.0,915.9 763.0,916.0 764.0,916.1 765.0,916.3 766.0,916.3 767.0,916.4 768.0,916.8 769.0,916.3 770.0,916.3 771.0,916.0 772.0,915.9 773.0,916.2 774.0,916.0 775.0,916.4 776.0,916.1 777.0,915.3 778.0,915.9 778.5,915.3 779.0,915.4 779.5,915.0 780.0,915.0 780.5,914.8 781.0,914.5 781.5,914.3 782.0,914.2 782.5,914.2 783.0,913.7 783.5,913.6 784.0,911.9 784.5,911.5 785.0,911.1 785.5,909.2 786.0,908.0 786.5,906.3 787.0,904.0 787.5,900.2 788.0,895.6 788.5,889.3 789.0,881.6 789.5,871.4 790.0,860.2 790.5,849.8 791.0,844.8 791.5,846.8 792.0,855.4 792.5,866.6 793.0,877.3 793.5,886.2 794.0,893.1 794.5,898.0 795.0,902.3 795.5,905.2 796.0,907.8 796.5,908.3 797.0,909.9 797.5,911.0 798.0,911.9 798.5,912.8 799.0,913.1 799.5,913.6 800.0,914.4 800.5,914.4 801.0,914.3 801.5,915.3 802.0,915.9 802.5,915.7 803.0,915.4 803.5,916.0 804.0,915.7 804.5,915.7 805.0,916.0 805.5,916.4 806.5,916.2 807.5,916.1 808.5,915.9 809.5,916.4 810.5,916.1 811.5,916.5 812.5,916.1 813.5,916.3 814.5,916.3 815.5,916.4 816.5,916.3 817.5,917.0 818.5,916.9 819.5,916.6 820.5,916.4 821.5,917.0 822.5,916.6 823.0,916.8 823.5,916.9 824.0,916.5 824.5,916.7 825.0,916.7 825.5,916.4 826.0,916.5 826.5,916.3 827.0,915.4 827.5,916.3 828.0,916.8 828.5,916.6 829.0,917.0 829.5,916.1 830.0,916.2 830.5,915.6 831.0,915.3 831.5,915.0 832.0,915.1 832.5,914.7 833.0,913.4 833.5,913.6 834.0,912.9 834.5,912.1 835.0,910.8 835.5,910.8 836.0,910.7 836.5,910.5 837.0,911.1 837.5,912.9 838.0,912.8 838.5,913.5 839.0,913.6 839.5,914.5 840.0,915.5 840.5,915.5 841.0,915.4 841.5,915.9 842.0,916.1 842.5,916.3 843.0,916.0 843.5,916.5 844.0,916.2 844.5,916.3 845.0,916.3 845.5,916.4 846.0,916.8 846.5,916.1 847.0,916.8 847.5,917.5 848.0,916.5 848.5,916.7 849.0,916.8 849.5,917.3 850.0,916.4 851.0,917.0 852.0,916.8 853.0,917.4 854.0,916.8 855.0,917.5 856.0,916.6 857.0,917.0 858.0,916.5 859.0,916.7 860.0,916.5 861.0,916.7 862.0,917.3 863.0,916.6 864.0,917.5 865.0,917.2 866.0,916.7 866.5,916.6 867.0,916.7 867.5,916.3 868.0,916.7 868.5,916.4 869.0,915.8 869.5,916.3 870.0,916.3 870.5,916.1 871.0,916.0 871.5,915.8 872.0,915.4 872.5,915.6 873.0,915.5 873.5,914.6 874.0,914.5 874.5,913.4 875.0,913.4 875.5,911.9 876.0,911.0 876.5,909.8 877.0,907.5 877.5,905.5 878.0,903.2 878.5,900.3 879.0,898.7 879.5,898.2 880.0,898.6 880.5,900.2 881.0,902.8 881.5,905.4 882.0,907.7 882.5,909.7 883.0,910.5 883.5,912.1 884.0,913.1 884.5,914.2 885.0,913.9 885.5,914.5 886.0,915.4 886.5,915.4 887.0,916.0 887.5,915.8 888.0,915.8 888.5,916.1 889.0,916.6 889.5,916.6 890.0,916.5 890.5,916.5 891.0,916.9 891.5,916.8 892.0,916.7 892.5,916.9 893.0,916.8 893.5,916.5 894.5,917.1 895.5,917.3 896.5,917.3 897.5,916.9 898.5,916.6 899.5,917.1 900.5,916.9 901.5,916.5 902.5,917.1 903.5,916.9 904.5,917.1 905.5,917.0 906.5,917.4 907.5,917.4 908.5,917.3 909.5,917.5 910.5,917.0 911.5,917.9 912.5,916.7 913.5,917.4 914.5,917.5 915.5,917.1 916.5,917.2 917.5,916.8 918.5,917.1 919.5,917.3 920.5,916.8 921.5,916.6 922.5,917.1 923.5,917.0 924.5,916.9 925.5,917.2 926.5,916.8 927.5,917.5 928.5,917.6 929.5,917.2 930.5,917.0 931.5,917.2 932.5,917.2 933.5,917.0 934.5,917.0 935.5,917.3 936.5,916.9 937.5,917.0 938.5,917.1 939.5,916.9 940.5,917.2 941.5,916.8 942.5,917.4 943.5,917.3 944.5,917.1 945.5,917.3 946.5,917.3 947.5,916.9 948.0,916.9 948.5,916.7 949.0,916.8 949.5,916.7 950.0,916.8 950.5,916.9 951.0,917.3 951.5,916.7 952.0,916.8 952.5,916.3 953.0,916.7 953.5,916.1 954.0,915.9 954.5,915.6 955.0,915.4 955.5,914.9 956.0,914.7 956.5,914.6 957.0,913.4 957.5,912.3 958.0,910.8 958.5,909.9 959.0,907.9 959.5,905.9 960.0,904.0 960.5,902.2 961.0,901.2 961.5,901.5 962.0,902.1 962.5,904.2 963.0,906.3 963.5,908.3 964.0,910.1 964.5,911.4 965.0,912.9 965.5,913.2 966.0,914.8 966.5,914.1 967.0,915.4 967.5,915.0 968.0,915.6 968.5,915.6 969.0,916.1 969.5,916.4 970.0,916.3 970.5,916.3 971.0,916.3 971.5,916.4 972.0,916.5 972.5,916.6 973.0,916.9 973.5,917.2 974.0,916.7 974.5,916.4 975.0,916.9 975.5,917.3 976.5,916.8 977.5,917.2 978.5,916.8 979.5,916.8 980.5,917.2 981.5,916.6 982.5,917.0 983.5,916.4 984.5,916.8 985.5,917.2 986.5,917.0 987.5,916.9 988.0,917.2 988.5,916.8 989.0,916.7 989.5,916.8 990.0,916.9 990.5,916.9 991.0,916.8 991.5,917.1 992.0,916.8 992.5,916.6 993.0,917.2 993.5,915.9 994.0,916.3 994.5,915.8 995.0,916.4 995.5,915.6 996.0,915.4 996.5,914.8 997.0,914.6 997.5,913.4 998.0,913.0 998.5,911.4 999.0,911.1 999.5,910.4 1000.0,909.7 1000.5,909.3 1001.0,908.7 1001.5,909.8 1002.0,910.5 1002.5,912.0 1003.0,912.6 1003.5,913.5 1004.0,914.4 1004.5,914.7 1005.0,914.6 1005.5,915.2 1006.0,915.1 1006.5,916.3 1007.0,916.1 1007.5,916.0 1008.0,916.6 1008.5,916.5 1009.0,916.6 1009.5,917.2 1010.0,916.3 1010.5,916.5 1011.0,917.0 1011.5,917.0 1012.0,917.4 1012.5,917.0 1013.0,917.3 1013.5,917.7 1014.0,916.8 1014.5,916.8 1015.0,917.0 1016.0,917.2 1017.0,917.0 1018.0,917.4 1019.0,917.1 1020.0,917.7 1021.0,917.5 1022.0,917.6 1023.0,917.5 1024.0,917.5 1025.0,917.0 1026.0,917.4 1027.0,916.9 1028.0,917.9 1029.0,917.1 1030.0,917.2 1031.0,917.4 1032.0,918.1 1033.0,917.2 1034.0,918.0 1035.0,917.5 1036.0,918.3 1037.0,917.5 1038.0,917.4 1039.0,917.5 1040.0,917.4 1041.0,917.3 1042.0,917.7 1043.0,917.4 1044.0,917.8 1045.0,917.7 1046.0,917.8 1047.0,918.0 1048.0,917.9 1049.0,917.3 1050.0,917.9 1051.0,916.8 1052.0,917.9 1053.0,917.9 1054.0,917.3 1055.0,917.9 1056.0,917.0 1057.0,917.9 1058.0,917.5 1059.0,917.5 1060.0,917.5 1061.0,917.4 1062.0,917.8 1063.0,917.6 1064.0,917.6 1065.0,917.6 1066.0,917.5 1067.0,917.3 1068.0,917.8 1069.0,917.9 1070.0,917.3 1071.0,917.9 1072.0,918.0 1073.0,917.7 1074.0,918.0 1075.0,917.0 1076.0,918.0 1077.0,917.4 1078.0,917.7 1079.0,917.4 1080.0,918.3 1081.0,917.5 1082.0,917.8 1083.0,917.2 1084.0,917.5 1085.0,917.7 1086.0,917.6 1087.0,917.4 1088.0,918.0 1089.0,917.2 1090.0,917.6 1091.0,917.5 1092.0,917.5 1093.0,917.8 1094.0,917.6 1095.0,917.5 1096.0,917.7 1097.0,917.5 1098.0,917.6 1098.5,917.8 1099.0,917.5 1099.5,917.4 1100.0,917.2 1100.5,917.7 1101.0,917.5 1101.5,917.3 1102.0,917.2 1102.5,916.8 1103.0,917.0 1103.5,917.0 1104.0,916.4 1104.5,916.3 1105.0,916.4 1105.5,916.8 1106.0,916.1 1106.5,915.2 1107.0,915.6 1107.5,915.0 1108.0,914.4 1108.5,913.3 1109.0,912.5 1109.5,912.3 1110.0,911.0 1110.5,911.2 1111.0,908.7 1111.5,908.7 1112.0,909.3 1112.5,909.9 1113.0,910.9 1113.5,912.2 1114.0,913.3 1114.5,913.3 1115.0,914.6 1115.5,915.2 1116.0,915.5 1116.5,916.2 1117.0,916.4 1117.5,916.1 1118.0,916.6 1118.5,916.8 1119.0,916.5 1119.5,916.9 1120.0,917.4 1120.5,917.3 1121.0,917.2 1121.5,918.0 1122.0,917.5 1122.5,917.7 1123.0,917.2 1123.5,917.8 1124.0,917.4 1124.5,917.5 1125.0,917.4 1125.5,917.2 1126.5,917.8 1127.5,917.3 1128.5,917.9 1129.5,917.4 1130.5,918.1 1131.5,917.8 1132.5,918.1 1133.5,917.4 1134.5,917.9 1135.5,918.0 1136.5,917.9 1137.5,917.8 1138.5,917.6 1139.5,916.9 1140.5,918.0 1141.5,917.4 1142.5,917.5 1143.5,917.9 1144.5,917.1 1145.5,917.6 1146.5,918.0 1147.5,917.9 1148.5,917.8 1149.5,917.6 1150.5,917.9 1151.5,917.4 1152.5,917.7 1153.5,918.1 1154.5,917.6 1155.5,917.8 1156.5,917.8 1157.5,917.5 1158.5,917.3 1159.5,917.6 1160.5,917.7 1161.5,917.6 1162.5,917.9 1163.5,918.0 1164.5,918.1 1165.5,918.0 1166.5,917.6 1167.5,918.3 1168.5,918.0 1169.5,918.2 1170.5,917.6 1171.5,918.3 1172.5,918.6 1173.5,918.1 1174.5,918.3 1175.5,917.8 1176.5,918.0 1177.5,917.9 1178.5,918.2 1179.5,918.0 1180.5,918.1 1181.5,917.7 1182.5,917.6 1183.5,918.0 1184.5,918.7 1185.5,917.7 1186.5,918.2 1187.5,918.4 1188.5,917.8 1189.5,917.5 1190.5,918.1 1191.5,918.0 1192.5,917.8 1193.5,918.5 1194.5,918.2 1195.5,918.0 1196.5,917.6 1197.5,918.4 1198.5,918.4 1199.5,918.3 1200.5,918.5 1201.5,917.7 1202.5,917.8 1203.5,918.3 1204.5,918.2 1205.5,918.0 1206.5,917.9 1207.5,918.4 1208.5,918.1 1209.5,918.3 1210.5,917.7 1211.5,918.1 1212.5,918.2 1213.5,918.4 1214.5,917.6 1215.5,918.0 1216.5,917.9 1217.5,918.1 1218.5,918.1 1219.5,918.2 1220.5,918.3 1221.5,918.2 1222.5,918.1 1223.5,918.4 1224.5,918.5 1225.5,918.1 1226.5,917.9 1227.5,918.6 1228.5,918.4 1229.5,918.8 1230.5,918.0 1231.5,918.0 1232.5,918.1 1233.5,918.1 1234.5,917.7 1235.5,918.4 1236.5,917.7 1237.5,917.3 1238.5,918.1 1239.5,917.8 1240.5,918.2 1241.5,917.8 1242.5,917.8 1243.5,917.6 1244.5,917.8 1245.5,918.1 1246.5,918.8 1247.5,918.4 1248.5,918.0 1249.5,918.6 1250.5,918.3 1251.5,917.6 1252.5,917.7 1253.5,917.7 1254.5,918.0 1255.5,918.2 1256.5,918.0 1257.5,918.0 1258.5,917.9 1259.5,918.3 1260.5,918.4 1261.5,917.9 1262.5,918.6 1263.5,918.0 1264.5,918.1 1265.5,918.7 1266.5,918.4 1267.5,918.2 1268.5,917.7 1269.5,918.3 1270.5,918.1 1271.5,918.2 1272.5,918.6 1273.5,918.1 1274.5,918.8 1275.5,918.3 1276.5,918.3 1277.5,918.2 1278.5,918.3 1279.5,918.7 1280.5,918.3 1281.5,918.0 1282.5,918.0 1283.5,918.6 1284.5,918.4 1285.5,918.0 1286.5,918.2 1287.5,918.3 1288.5,918.5 1289.5,918.0 1290.5,918.3 1291.5,917.9 1292.5,918.1 1293.5,918.2 1294.5,918.7 1295.5,918.3 1296.5,918.8 1297.5,918.4 1298.5,918.7 1299.5,918.3 1300.5,917.8 1301.5,917.7 1302.5,918.2 1303.5,918.8 1304.5,918.3 1305.5,918.2 1306.5,918.5 1307.5,918.2 1308.5,918.2 1309.5,918.4 1310.5,918.4 1311.5,918.1 1312.5,918.1 1313.5,918.8 1314.5,918.0 1315.5,918.0 1316.5,918.2 1317.5,918.2 1318.5,918.4 1319.5,918.7 1320.5,918.6 1321.5,918.2 1322.5,918.3 1323.5,918.5 1324.5,918.2 1325.5,918.2 1326.5,917.9 1327.5,918.3 1328.5,918.1 1329.5,917.7 1330.5,918.1 1331.5,918.7 1332.0,918.1 1332.5,917.7 1333.0,918.3 1333.5,917.9 1334.0,917.8 1334.5,918.2 1335.0,917.9 1335.5,918.2 1336.0,917.2 1336.5,917.2 1337.0,917.2 1337.5,917.2 1338.0,916.6 1338.5,916.8 1339.0,916.0 1339.5,916.0 1340.0,915.7 1340.5,915.4 1341.0,914.9 1341.5,913.9 1342.0,913.5 1342.5,912.5 1343.0,911.4 1343.5,910.3 1344.0,909.0 1344.5,908.8 1345.0,908.2 1345.5,907.8 1346.0,908.6 1346.5,908.7 1347.0,909.9 1347.5,911.1 1348.0,912.4 1348.5,913.1 1349.0,913.7 1349.5,914.2 1350.0,914.9 1350.5,916.0 1351.0,916.2 1351.5,915.9 1352.0,917.2 1352.5,916.7 1353.0,916.9 1353.5,917.1 1354.0,917.3 1354.5,917.3 1355.0,917.5 1355.5,917.8 1356.0,917.9 1356.5,917.5 1357.0,917.7 1357.5,917.5 1358.0,917.6 1358.5,917.8 1359.0,917.7 1359.5,918.0 1360.5,917.6 1361.5,918.0 1362.5,918.0 1363.0,917.7 1363.5,917.7 1364.0,917.9 1364.5,917.6 1365.0,917.6 1365.5,917.7 1366.0,916.8 1366.5,917.7 1367.0,917.5 1367.5,917.5 1368.0,916.8 1368.5,916.9 1369.0,917.0 1369.5,916.8 1370.0,916.3 1370.5,916.0 1371.0,916.3 1371.5,915.6 1372.0,915.5 1372.5,914.2 1373.0,914.3 1373.5,913.4 1374.0,912.9 1374.5,912.9 1375.0,911.8 1375.5,911.5 1376.0,911.5 1376.5,911.7 1377.0,912.1 1377.5,912.6 1378.0,913.4 1378.5,913.7 1379.0,914.7 1379.5,915.0 1380.0,915.3 1380.5,915.5 1381.0,916.4 1381.5,916.2 1382.0,916.8 1382.5,916.8 1383.0,916.8 1383.5,917.3 1384.0,917.5 1384.5,917.5 1385.0,917.8 1385.5,917.6 1386.0,917.5 1386.5,917.8 1387.0,918.4 1387.5,917.6 1388.0,917.4 1388.5,918.0 1389.0,917.7 1389.5,918.5 1390.0,918.1 1391.0,917.9 1392.0,918.2 1393.0,918.0 1394.0,918.4 1395.0,918.6 1396.0,918.7 1397.0,918.7 1398.0,918.4 1399.0,918.7 1400.0,918.5 1401.0,918.0 1402.0,918.8 1403.0,918.2 1404.0,918.3 1405.0,918.0 1406.0,918.2 1407.0,917.8 1408.0,918.1 1409.0,918.2 1410.0,918.1 1411.0,918.4 1412.0,918.7 1413.0,918.4 1414.0,918.6 1414.0,918.8"/>
</g>
<text transform="translate(294.13,115.2) scale(1.1160,1)" font-size="63.4">Δ</text>
<text transform="translate(372.25,239.8) scale(1.1103,1)" font-size="63.4">Δ</text>
<text transform="translate(614.70,86.8) scale(1.0907,1)" font-size="63.4">Δ</text>
<text transform="translate(773.26,219.0) scale(1.1075,1)" font-size="63.4">Δ</text>
<text transform="translate(816.26,289.6) scale(1.1075,1)" font-size="63.4">Δ</text>
<text transform="translate(856.13,294.6) scale(1.1188,1)" font-size="63.4">Δ</text>
<text transform="translate(936.13,292.9) scale(1.1160,1)" font-size="63.4">Δ</text>
<text transform="translate(987.25,297.5) scale(1.1103,1)" font-size="63.4">Δ</text>
<text transform="translate(1086.23,297.5) scale(1.1188,1)" font-size="63.4">Δ</text>
<text transform="translate(1132.93,302.6) scale(1.1188,1)" font-size="63.4">Δ</text>
<text transform="translate(1172.03,291.7) scale(1.1160,1)" font-size="63.4">Δ</text>
<text transform="translate(1233.92,289.8) scale(1.1216,1)" font-size="63.4">Δ</text>
<text transform="translate(1326.25,289.8) scale(1.1103,1)" font-size="63.4">Δ</text>
<text transform="translate(1371.04,278.6) scale(1.1132,1)" font-size="63.4">Δ</text>
<text transform="translate(164.87,254.6) scale(1.0947,1)" font-size="72.5">(c)</text>
<text transform="translate(162.91,608.0) scale(1.1111,1)" font-size="72.5">(b)</text>
<text transform="translate(165.92,878.2) scale(1.1069,1)" font-size="72.5">(a)</text>
<text transform="translate(93.05,1038.8) scale(1.0245,1)" font-size="63">10</text>
<text transform="translate(253.96,1038.8) scale(1.0033,1)" font-size="63">15</text>
<text transform="translate(409.74,1038.8) scale(1.0959,1)" font-size="63">20</text>
<text transform="translate(570.29,1038.8) scale(1.0775,1)" font-size="63">25</text>
<text transform="translate(732.29,1038.8) scale(1.0785,1)" font-size="63">30</text>
<text transform="translate(892.21,1038.8) scale(1.0458,1)" font-size="63">35</text>
<text transform="translate(1053.60,1038.8) scale(1.0602,1)" font-size="63">40</text>
<text transform="translate(1213.12,1038.8) scale(1.0456,1)" font-size="63">45</text>
<text transform="translate(1373.72,1038.8) scale(1.0896,1)" font-size="63">50</text>
<text transform="translate(0,1118) scale(1.083,1)" font-size="72.4"><tspan x="491.9">2 </tspan><tspan x="546.9">Theta </tspan><tspan x="727.4">(Degree)</tspan></text>
<text transform="translate(78,731.0) rotate(-90)" font-size="72.7">Intensity (a.u.)</text>
</svg></body></html>
